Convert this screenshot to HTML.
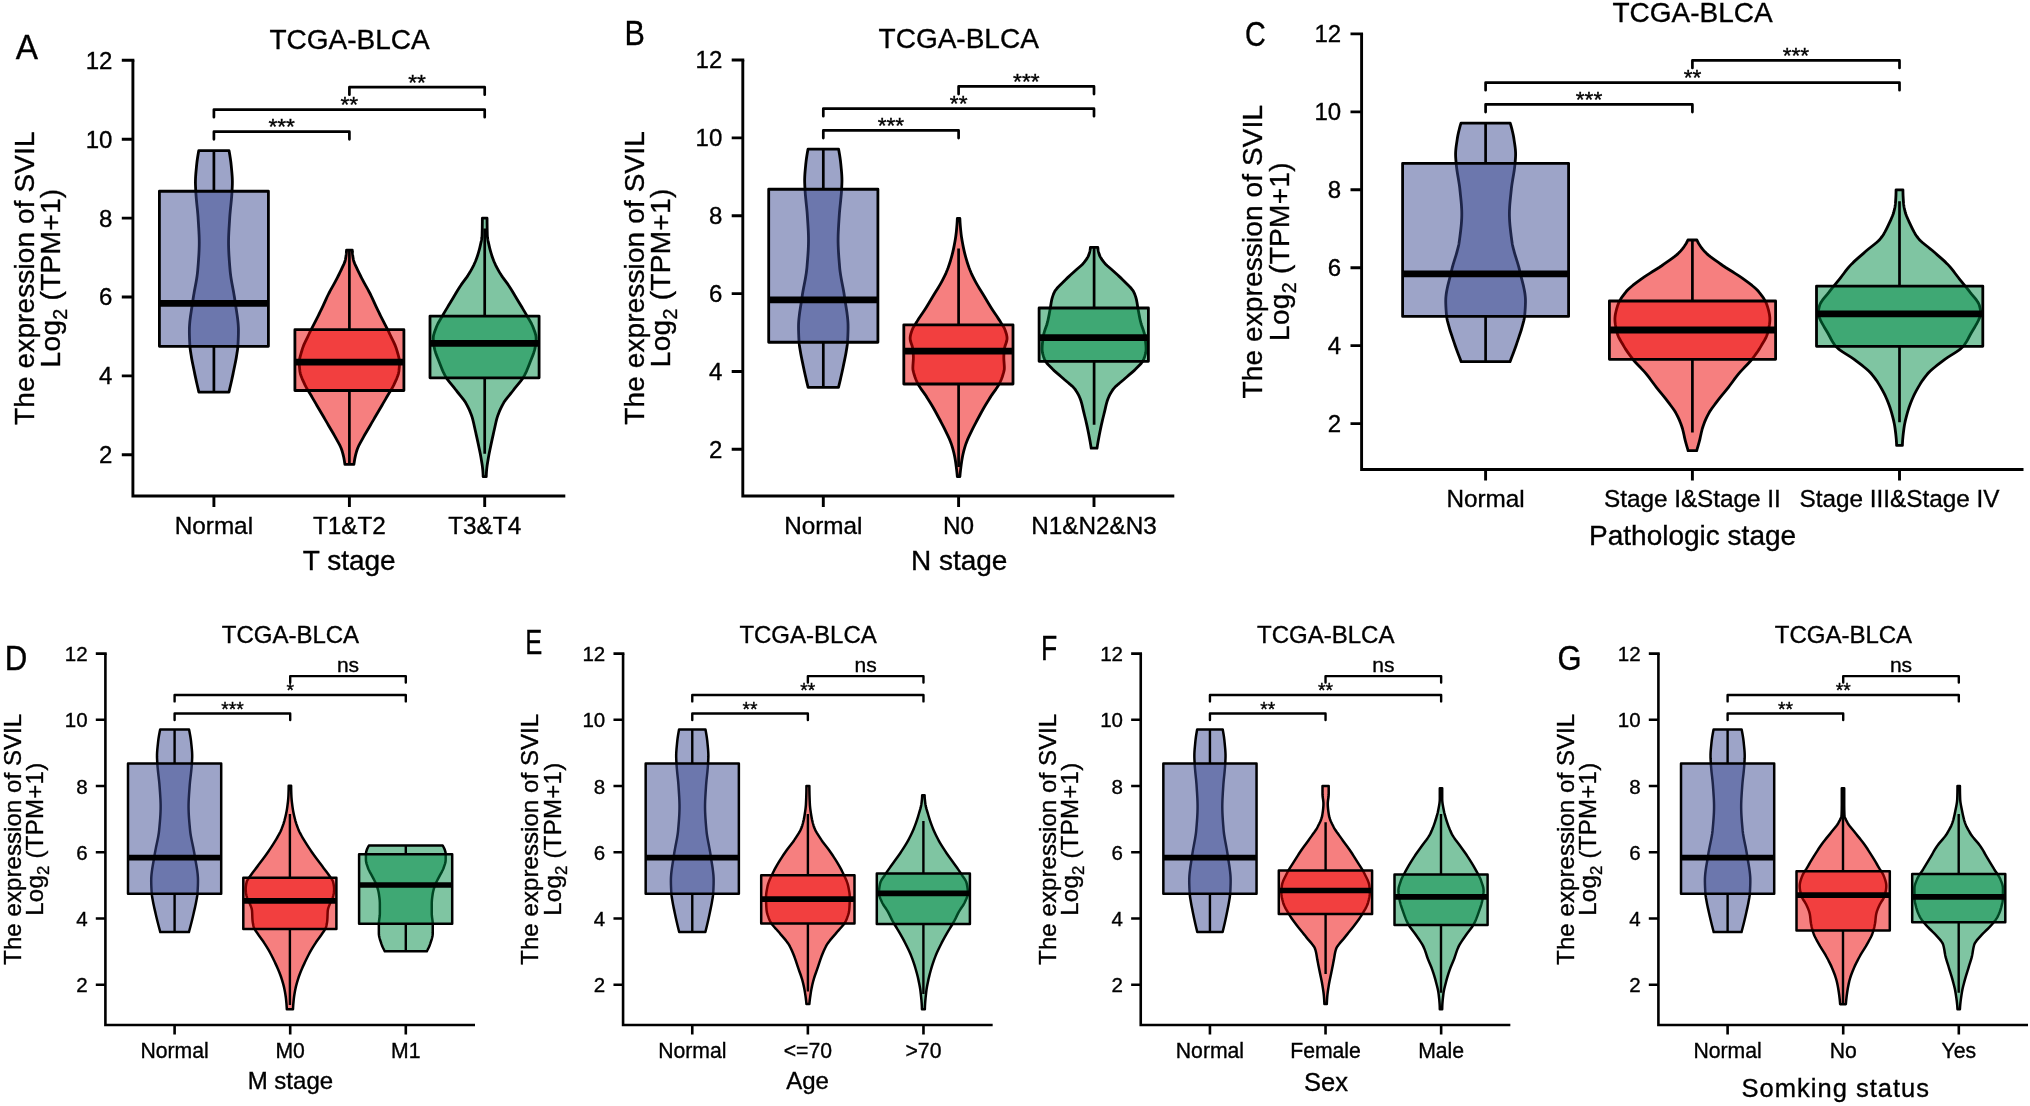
<!DOCTYPE html>
<html lang="en">
<head>
<meta charset="utf-8">
<title>SVIL expression in TCGA-BLCA</title>
<style>
html,body{margin:0;padding:0;background:#fff;}
body{width:2030px;height:1106px;overflow:hidden;}
svg{display:block;font-family:'Liberation Sans', sans-serif;fill:#000;filter:blur(0.45px);}
text{stroke:#000;stroke-width:0.35px;}
</style>
</head>
<body>
<svg width="2030" height="1106" viewBox="0 0 2030 1106">
<rect x="0" y="0" width="2030" height="1106" fill="#fff"/>
<g>
<text transform="translate(15.8 59) scale(0.94 1)" font-size="35.5">A</text>
<text x="349.5" y="48.5" font-size="28" text-anchor="middle">TCGA-BLCA</text>
<path d="M229.06 150.64 L229.33 152.16 L229.59 153.68 L229.84 155.2 L230.08 156.71 L230.31 158.23 L230.53 159.75 L230.74 161.27 L230.93 162.79 L231.1 164.31 L231.26 165.83 L231.4 167.34 L231.54 168.86 L231.68 170.38 L231.82 171.9 L231.95 173.42 L232.06 174.94 L232.17 176.45 L232.26 177.97 L232.32 179.49 L232.36 181.01 L232.37 182.53 L232.35 184.05 L232.3 185.56 L232.24 187.08 L232.16 188.6 L232.08 190.12 L232 191.64 L231.91 193.16 L231.81 194.68 L231.7 196.19 L231.57 197.71 L231.44 199.23 L231.29 200.75 L231.14 202.27 L230.99 203.79 L230.84 205.3 L230.68 206.82 L230.52 208.34 L230.37 209.86 L230.23 211.38 L230.09 212.9 L229.96 214.42 L229.84 215.93 L229.73 217.45 L229.64 218.97 L229.54 220.49 L229.45 222.01 L229.35 223.53 L229.25 225.04 L229.16 226.56 L229.06 228.08 L228.98 229.6 L228.89 231.12 L228.82 232.64 L228.75 234.16 L228.68 235.67 L228.63 237.19 L228.59 238.71 L228.56 240.23 L228.55 241.75 L228.55 243.27 L228.56 244.78 L228.59 246.3 L228.63 247.82 L228.68 249.34 L228.74 250.86 L228.81 252.38 L228.88 253.9 L228.97 255.41 L229.07 256.93 L229.17 258.45 L229.27 259.97 L229.38 261.49 L229.5 263.01 L229.62 264.52 L229.74 266.04 L229.86 267.56 L229.99 269.08 L230.11 270.6 L230.26 272.12 L230.43 273.64 L230.62 275.15 L230.83 276.67 L231.06 278.19 L231.31 279.71 L231.56 281.23 L231.83 282.75 L232.11 284.26 L232.39 285.78 L232.68 287.3 L232.96 288.82 L233.25 290.34 L233.53 291.86 L233.8 293.38 L234.07 294.89 L234.32 296.41 L234.57 297.93 L234.79 299.45 L235 300.97 L235.21 302.49 L235.44 304 L235.67 305.52 L235.9 307.04 L236.14 308.56 L236.38 310.08 L236.61 311.6 L236.84 313.11 L237.07 314.63 L237.28 316.15 L237.48 317.67 L237.67 319.19 L237.85 320.71 L238 322.23 L238.14 323.74 L238.25 325.26 L238.34 326.78 L238.4 328.3 L238.43 329.82 L238.43 331.34 L238.42 332.85 L238.39 334.37 L238.35 335.89 L238.31 337.41 L238.25 338.93 L238.19 340.45 L238.12 341.97 L238.04 343.48 L237.96 345 L237.87 346.52 L237.73 348.04 L237.54 349.56 L237.33 351.08 L237.09 352.59 L236.85 354.11 L236.6 355.63 L236.35 357.15 L236.09 358.67 L235.81 360.19 L235.52 361.71 L235.21 363.22 L234.9 364.74 L234.59 366.26 L234.28 367.78 L233.97 369.3 L233.66 370.82 L233.35 372.33 L233.04 373.85 L232.72 375.37 L232.39 376.89 L232.07 378.41 L231.74 379.93 L231.4 381.45 L231.06 382.96 L230.72 384.48 L230.37 386 L230.01 387.52 L229.66 389.04 L229.3 390.56 L228.93 392.07 L198.87 392.07 L198.5 390.56 L198.14 389.04 L197.79 387.52 L197.43 386 L197.08 384.48 L196.74 382.96 L196.4 381.45 L196.06 379.93 L195.73 378.41 L195.41 376.89 L195.08 375.37 L194.76 373.85 L194.45 372.33 L194.14 370.82 L193.83 369.3 L193.52 367.78 L193.21 366.26 L192.9 364.74 L192.59 363.22 L192.28 361.71 L191.99 360.19 L191.71 358.67 L191.45 357.15 L191.2 355.63 L190.95 354.11 L190.71 352.59 L190.47 351.08 L190.26 349.56 L190.07 348.04 L189.93 346.52 L189.84 345 L189.76 343.48 L189.68 341.97 L189.61 340.45 L189.55 338.93 L189.49 337.41 L189.45 335.89 L189.41 334.37 L189.38 332.85 L189.37 331.34 L189.37 329.82 L189.4 328.3 L189.46 326.78 L189.55 325.26 L189.66 323.74 L189.8 322.23 L189.95 320.71 L190.13 319.19 L190.32 317.67 L190.52 316.15 L190.73 314.63 L190.96 313.11 L191.19 311.6 L191.42 310.08 L191.66 308.56 L191.9 307.04 L192.13 305.52 L192.36 304 L192.59 302.49 L192.8 300.97 L193.01 299.45 L193.23 297.93 L193.48 296.41 L193.73 294.89 L194 293.38 L194.27 291.86 L194.55 290.34 L194.84 288.82 L195.12 287.3 L195.41 285.78 L195.69 284.26 L195.97 282.75 L196.24 281.23 L196.49 279.71 L196.74 278.19 L196.97 276.67 L197.18 275.15 L197.37 273.64 L197.54 272.12 L197.69 270.6 L197.81 269.08 L197.94 267.56 L198.06 266.04 L198.18 264.52 L198.3 263.01 L198.42 261.49 L198.53 259.97 L198.63 258.45 L198.73 256.93 L198.83 255.41 L198.92 253.9 L198.99 252.38 L199.06 250.86 L199.12 249.34 L199.17 247.82 L199.21 246.3 L199.24 244.78 L199.25 243.27 L199.25 241.75 L199.24 240.23 L199.21 238.71 L199.17 237.19 L199.12 235.67 L199.05 234.16 L198.98 232.64 L198.91 231.12 L198.82 229.6 L198.74 228.08 L198.64 226.56 L198.55 225.04 L198.45 223.53 L198.35 222.01 L198.26 220.49 L198.16 218.97 L198.07 217.45 L197.96 215.93 L197.84 214.42 L197.71 212.9 L197.57 211.38 L197.43 209.86 L197.28 208.34 L197.12 206.82 L196.96 205.3 L196.81 203.79 L196.66 202.27 L196.51 200.75 L196.36 199.23 L196.23 197.71 L196.1 196.19 L195.99 194.68 L195.89 193.16 L195.8 191.64 L195.72 190.12 L195.64 188.6 L195.56 187.08 L195.5 185.56 L195.45 184.05 L195.43 182.53 L195.44 181.01 L195.48 179.49 L195.54 177.97 L195.63 176.45 L195.74 174.94 L195.85 173.42 L195.98 171.9 L196.12 170.38 L196.26 168.86 L196.4 167.34 L196.54 165.83 L196.7 164.31 L196.87 162.79 L197.06 161.27 L197.27 159.75 L197.49 158.23 L197.72 156.71 L197.96 155.2 L198.21 153.68 L198.47 152.16 L198.74 150.64 Z" fill="#3B4992" fill-opacity="0.5" stroke="#000" stroke-width="2.8" stroke-linejoin="round"/>
<path d="M213.9 150.64 V191.27 M213.9 346.31 V392.07" stroke="#000" stroke-width="2.7" fill="none"/>
<rect x="159.4" y="191.27" width="109" height="155.04" fill="#3B4992" fill-opacity="0.5" stroke="#000" stroke-width="2.8" stroke-linejoin="round"/>
<path d="M159.4 303.31 H268.4" stroke="#000" stroke-width="6.8" fill="none"/>
<path d="M352.3 250.18 L352.33 251.7 L352.44 253.22 L352.6 254.74 L352.81 256.25 L353.05 257.77 L353.31 259.29 L353.65 260.81 L354.16 262.33 L354.8 263.85 L355.5 265.37 L356.22 266.89 L356.91 268.41 L357.6 269.93 L358.33 271.45 L359.08 272.97 L359.84 274.49 L360.62 276.01 L361.41 277.53 L362.21 279.05 L363 280.57 L363.79 282.09 L364.61 283.61 L365.44 285.13 L366.28 286.65 L367.13 288.17 L367.97 289.69 L368.8 291.21 L369.61 292.73 L370.4 294.25 L371.15 295.76 L371.88 297.28 L372.58 298.8 L373.27 300.32 L373.95 301.84 L374.63 303.36 L375.31 304.88 L376 306.4 L376.71 307.92 L377.44 309.44 L378.18 310.96 L378.93 312.48 L379.69 314 L380.46 315.52 L381.23 317.04 L382 318.56 L382.77 320.08 L383.53 321.6 L384.3 323.12 L385.07 324.64 L385.84 326.16 L386.62 327.68 L387.39 329.2 L388.16 330.72 L388.91 332.24 L389.66 333.76 L390.38 335.27 L391.1 336.79 L391.84 338.31 L392.59 339.83 L393.33 341.35 L394.04 342.87 L394.73 344.39 L395.36 345.91 L395.94 347.43 L396.44 348.95 L396.89 350.47 L397.36 351.99 L397.82 353.51 L398.25 355.03 L398.64 356.55 L398.98 358.07 L399.25 359.59 L399.42 361.11 L399.49 362.63 L399.47 364.15 L399.4 365.67 L399.3 367.19 L399.17 368.71 L399.02 370.23 L398.83 371.75 L398.53 373.27 L398.11 374.79 L397.6 376.3 L397.01 377.82 L396.37 379.34 L395.69 380.86 L395 382.38 L394.3 383.9 L393.6 385.42 L392.81 386.94 L391.96 388.46 L391.05 389.98 L390.12 391.5 L389.18 393.02 L388.26 394.54 L387.38 396.06 L386.49 397.58 L385.61 399.1 L384.72 400.62 L383.84 402.14 L382.95 403.66 L382.06 405.18 L381.17 406.7 L380.28 408.22 L379.4 409.74 L378.51 411.26 L377.62 412.78 L376.73 414.3 L375.85 415.81 L374.96 417.33 L374.07 418.85 L373.18 420.37 L372.29 421.89 L371.41 423.41 L370.52 424.93 L369.64 426.45 L368.76 427.97 L367.87 429.49 L366.98 431.01 L366.09 432.53 L365.2 434.05 L364.32 435.57 L363.47 437.09 L362.64 438.61 L361.81 440.13 L360.97 441.65 L360.13 443.17 L359.32 444.69 L358.56 446.21 L357.87 447.73 L357.28 449.25 L356.77 450.77 L356.31 452.29 L355.89 453.81 L355.52 455.32 L355.18 456.84 L354.87 458.36 L354.59 459.88 L354.34 461.4 L354.11 462.92 L353.92 464.44 L344.88 464.44 L344.69 462.92 L344.46 461.4 L344.21 459.88 L343.93 458.36 L343.62 456.84 L343.28 455.32 L342.91 453.81 L342.49 452.29 L342.03 450.77 L341.52 449.25 L340.93 447.73 L340.24 446.21 L339.48 444.69 L338.67 443.17 L337.83 441.65 L336.99 440.13 L336.16 438.61 L335.33 437.09 L334.48 435.57 L333.6 434.05 L332.71 432.53 L331.82 431.01 L330.93 429.49 L330.04 427.97 L329.16 426.45 L328.28 424.93 L327.39 423.41 L326.51 421.89 L325.62 420.37 L324.73 418.85 L323.84 417.33 L322.95 415.81 L322.07 414.3 L321.18 412.78 L320.29 411.26 L319.4 409.74 L318.52 408.22 L317.63 406.7 L316.74 405.18 L315.85 403.66 L314.96 402.14 L314.08 400.62 L313.19 399.1 L312.31 397.58 L311.42 396.06 L310.54 394.54 L309.62 393.02 L308.68 391.5 L307.75 389.98 L306.84 388.46 L305.99 386.94 L305.2 385.42 L304.5 383.9 L303.8 382.38 L303.11 380.86 L302.43 379.34 L301.79 377.82 L301.2 376.3 L300.69 374.79 L300.27 373.27 L299.97 371.75 L299.78 370.23 L299.63 368.71 L299.5 367.19 L299.4 365.67 L299.33 364.15 L299.31 362.63 L299.38 361.11 L299.55 359.59 L299.82 358.07 L300.16 356.55 L300.55 355.03 L300.98 353.51 L301.44 351.99 L301.91 350.47 L302.36 348.95 L302.86 347.43 L303.44 345.91 L304.07 344.39 L304.76 342.87 L305.47 341.35 L306.21 339.83 L306.96 338.31 L307.7 336.79 L308.42 335.27 L309.14 333.76 L309.89 332.24 L310.64 330.72 L311.41 329.2 L312.18 327.68 L312.96 326.16 L313.73 324.64 L314.5 323.12 L315.27 321.6 L316.03 320.08 L316.8 318.56 L317.57 317.04 L318.34 315.52 L319.11 314 L319.87 312.48 L320.62 310.96 L321.36 309.44 L322.09 307.92 L322.8 306.4 L323.49 304.88 L324.17 303.36 L324.85 301.84 L325.53 300.32 L326.22 298.8 L326.92 297.28 L327.65 295.76 L328.4 294.25 L329.19 292.73 L330 291.21 L330.83 289.69 L331.67 288.17 L332.52 286.65 L333.36 285.13 L334.19 283.61 L335.01 282.09 L335.8 280.57 L336.59 279.05 L337.39 277.53 L338.18 276.01 L338.96 274.49 L339.72 272.97 L340.47 271.45 L341.2 269.93 L341.89 268.41 L342.58 266.89 L343.3 265.37 L344 263.85 L344.64 262.33 L345.15 260.81 L345.49 259.29 L345.75 257.77 L345.99 256.25 L346.2 254.74 L346.36 253.22 L346.47 251.7 L346.5 250.18 Z" fill="#EE0000" fill-opacity="0.5" stroke="#000" stroke-width="2.8" stroke-linejoin="round"/>
<path d="M349.4 250.2 V329.7 M349.4 390.5 V464.6" stroke="#000" stroke-width="2.7" fill="none"/>
<rect x="294.9" y="329.7" width="109" height="60.8" fill="#EE0000" fill-opacity="0.5" stroke="#000" stroke-width="2.8" stroke-linejoin="round"/>
<path d="M294.9 362.1 H403.9" stroke="#000" stroke-width="6.8" fill="none"/>
<path d="M487.05 218.17 L487.06 219.68 L487.06 221.2 L487.07 222.71 L487.09 224.22 L487.11 225.73 L487.13 227.24 L487.16 228.75 L487.19 230.26 L487.23 231.78 L487.27 233.29 L487.31 234.8 L487.38 236.31 L487.54 237.82 L487.77 239.33 L488.05 240.85 L488.38 242.36 L488.72 243.87 L489.06 245.38 L489.4 246.89 L489.76 248.4 L490.15 249.91 L490.57 251.43 L491.01 252.94 L491.48 254.45 L491.97 255.96 L492.49 257.47 L493.04 258.98 L493.61 260.5 L494.23 262.01 L494.91 263.52 L495.62 265.03 L496.38 266.54 L497.17 268.05 L497.99 269.56 L498.83 271.08 L499.7 272.59 L500.6 274.1 L501.57 275.61 L502.61 277.12 L503.7 278.63 L504.81 280.15 L505.94 281.66 L507.05 283.17 L508.14 284.68 L509.17 286.19 L510.15 287.7 L511.1 289.21 L512.02 290.73 L512.92 292.24 L513.82 293.75 L514.7 295.26 L515.59 296.77 L516.47 298.28 L517.37 299.8 L518.28 301.31 L519.19 302.82 L520.12 304.33 L521.04 305.84 L521.96 307.35 L522.87 308.87 L523.78 310.38 L524.67 311.89 L525.55 313.4 L526.41 314.91 L527.31 316.42 L528.22 317.93 L529.12 319.45 L530.01 320.96 L530.85 322.47 L531.64 323.98 L532.36 325.49 L532.99 327 L533.55 328.52 L534.12 330.03 L534.68 331.54 L535.19 333.05 L535.63 334.56 L535.95 336.07 L536.12 337.58 L536.14 339.1 L536.06 340.61 L535.92 342.12 L535.73 343.63 L535.52 345.14 L535.3 346.65 L535.03 348.17 L534.67 349.68 L534.25 351.19 L533.77 352.7 L533.24 354.21 L532.68 355.72 L532.09 357.23 L531.48 358.75 L530.88 360.26 L530.28 361.77 L529.7 363.28 L529.12 364.79 L528.53 366.3 L527.93 367.82 L527.3 369.33 L526.65 370.84 L525.96 372.35 L525.22 373.86 L524.44 375.37 L523.6 376.89 L522.65 378.4 L521.59 379.91 L520.45 381.42 L519.25 382.93 L518.01 384.44 L516.76 385.95 L515.52 387.47 L514.31 388.98 L513.15 390.49 L511.95 392 L510.71 393.51 L509.46 395.02 L508.22 396.54 L507.01 398.05 L505.86 399.56 L504.79 401.07 L503.81 402.58 L502.96 404.09 L502.15 405.6 L501.38 407.12 L500.64 408.63 L499.95 410.14 L499.3 411.65 L498.69 413.16 L498.13 414.67 L497.61 416.19 L497.14 417.7 L496.71 419.21 L496.32 420.72 L495.95 422.23 L495.6 423.74 L495.27 425.25 L494.94 426.77 L494.61 428.28 L494.28 429.79 L493.93 431.3 L493.59 432.81 L493.25 434.32 L492.91 435.84 L492.57 437.35 L492.24 438.86 L491.92 440.37 L491.59 441.88 L491.27 443.39 L490.95 444.91 L490.63 446.42 L490.31 447.93 L489.99 449.44 L489.68 450.95 L489.37 452.46 L489.07 453.97 L488.79 455.49 L488.52 457 L488.27 458.51 L488.02 460.02 L487.76 461.53 L487.52 463.04 L487.28 464.56 L487.06 466.07 L486.87 467.58 L486.7 469.09 L486.56 470.6 L486.45 472.11 L486.36 473.62 L486.29 475.14 L486.24 476.65 L483.16 476.65 L483.11 475.14 L483.04 473.62 L482.95 472.11 L482.84 470.6 L482.7 469.09 L482.53 467.58 L482.34 466.07 L482.12 464.56 L481.88 463.04 L481.64 461.53 L481.38 460.02 L481.13 458.51 L480.88 457 L480.61 455.49 L480.33 453.97 L480.03 452.46 L479.72 450.95 L479.41 449.44 L479.09 447.93 L478.77 446.42 L478.45 444.91 L478.13 443.39 L477.81 441.88 L477.48 440.37 L477.16 438.86 L476.83 437.35 L476.49 435.84 L476.15 434.32 L475.81 432.81 L475.47 431.3 L475.12 429.79 L474.79 428.28 L474.46 426.77 L474.13 425.25 L473.8 423.74 L473.45 422.23 L473.08 420.72 L472.69 419.21 L472.26 417.7 L471.79 416.19 L471.27 414.67 L470.71 413.16 L470.1 411.65 L469.45 410.14 L468.76 408.63 L468.02 407.12 L467.25 405.6 L466.44 404.09 L465.59 402.58 L464.61 401.07 L463.54 399.56 L462.39 398.05 L461.18 396.54 L459.94 395.02 L458.69 393.51 L457.45 392 L456.25 390.49 L455.09 388.98 L453.88 387.47 L452.64 385.95 L451.39 384.44 L450.15 382.93 L448.95 381.42 L447.81 379.91 L446.75 378.4 L445.8 376.89 L444.96 375.37 L444.18 373.86 L443.44 372.35 L442.75 370.84 L442.1 369.33 L441.47 367.82 L440.87 366.3 L440.28 364.79 L439.7 363.28 L439.12 361.77 L438.52 360.26 L437.92 358.75 L437.31 357.23 L436.72 355.72 L436.16 354.21 L435.63 352.7 L435.15 351.19 L434.73 349.68 L434.37 348.17 L434.1 346.65 L433.88 345.14 L433.67 343.63 L433.48 342.12 L433.34 340.61 L433.26 339.1 L433.28 337.58 L433.45 336.07 L433.77 334.56 L434.21 333.05 L434.72 331.54 L435.28 330.03 L435.85 328.52 L436.41 327 L437.04 325.49 L437.76 323.98 L438.55 322.47 L439.39 320.96 L440.28 319.45 L441.18 317.93 L442.09 316.42 L442.99 314.91 L443.85 313.4 L444.73 311.89 L445.62 310.38 L446.53 308.87 L447.44 307.35 L448.36 305.84 L449.28 304.33 L450.21 302.82 L451.12 301.31 L452.03 299.8 L452.93 298.28 L453.81 296.77 L454.7 295.26 L455.58 293.75 L456.48 292.24 L457.38 290.73 L458.3 289.21 L459.25 287.7 L460.23 286.19 L461.26 284.68 L462.35 283.17 L463.46 281.66 L464.59 280.15 L465.7 278.63 L466.79 277.12 L467.83 275.61 L468.8 274.1 L469.7 272.59 L470.57 271.08 L471.41 269.56 L472.23 268.05 L473.02 266.54 L473.78 265.03 L474.49 263.52 L475.17 262.01 L475.79 260.5 L476.36 258.98 L476.91 257.47 L477.43 255.96 L477.92 254.45 L478.39 252.94 L478.83 251.43 L479.25 249.91 L479.64 248.4 L480 246.89 L480.34 245.38 L480.68 243.87 L481.02 242.36 L481.35 240.85 L481.63 239.33 L481.86 237.82 L482.02 236.31 L482.09 234.8 L482.13 233.29 L482.17 231.78 L482.21 230.26 L482.24 228.75 L482.27 227.24 L482.29 225.73 L482.31 224.22 L482.33 222.71 L482.34 221.2 L482.34 219.68 L482.35 218.17 Z" fill="#008B45" fill-opacity="0.5" stroke="#000" stroke-width="2.8" stroke-linejoin="round"/>
<path d="M484.7 228.6 V316.1 M484.7 377.8 V453.7" stroke="#000" stroke-width="2.7" fill="none"/>
<rect x="430" y="316.1" width="109.1" height="61.7" fill="#008B45" fill-opacity="0.5" stroke="#000" stroke-width="2.8" stroke-linejoin="round"/>
<path d="M430 343.3 H539.1" stroke="#000" stroke-width="6.8" fill="none"/>
<path d="M132.9 60.3 V496 H565.3" stroke="#000" stroke-width="2.9" fill="none" stroke-linejoin="miter"/>
<text x="112.4" y="463.2" font-size="24" text-anchor="end">2</text>
<text x="112.4" y="384.3" font-size="24" text-anchor="end">4</text>
<text x="112.4" y="305.4" font-size="24" text-anchor="end">6</text>
<text x="112.4" y="226.5" font-size="24" text-anchor="end">8</text>
<text x="112.4" y="147.6" font-size="24" text-anchor="end">10</text>
<text x="112.4" y="68.7" font-size="24" text-anchor="end">12</text>
<path d="M121.8 454.8 H132.9 M121.8 375.9 H132.9 M121.8 297 H132.9 M121.8 218.1 H132.9 M121.8 139.2 H132.9 M121.8 60.3 H134.35 M213.9 496 V507.1 M349.4 496 V507.1 M484.7 496 V507.1" stroke="#000" stroke-width="2.9" fill="none"/>
<text x="213.9" y="533.9" font-size="24.3" text-anchor="middle">Normal</text>
<text x="349.4" y="533.9" font-size="24.3" text-anchor="middle">T1&amp;T2</text>
<text x="484.7" y="533.9" font-size="24.3" text-anchor="middle">T3&amp;T4</text>
<text x="349.2" y="570.2" font-size="28" text-anchor="middle">T stage</text>
<text transform="translate(33.7 278.15) rotate(-90)" font-size="28" text-anchor="middle" textLength="293.5" lengthAdjust="spacing">The expression of SVIL</text>
<text transform="translate(59.8 278.15) rotate(-90)" font-size="28" text-anchor="middle" textLength="178.5" lengthAdjust="spacing">Log<tspan font-size="19.6" dy="7">2</tspan><tspan dy="-7"> (TPM+1)</tspan></text>
<text x="417.05" y="89.53" font-size="22.7" text-anchor="middle">**</text>
<text x="349.3" y="112.01" font-size="22.7" text-anchor="middle">**</text>
<text x="281.65" y="134.1" font-size="22.7" text-anchor="middle">***</text>
<path d="M349.4 94.73 V87.13 H484.7 V94.73 M213.9 117.21 V109.61 H484.7 V117.21 M213.9 139.3 V131.7 H349.4 V139.3" stroke="#000" stroke-width="2.7" fill="none" stroke-linejoin="round" stroke-linecap="round"/>
</g>
<g>
<text transform="translate(624.6 45.3) scale(0.86 1)" font-size="35.5">B</text>
<text x="958.7" y="48.2" font-size="28" text-anchor="middle">TCGA-BLCA</text>
<path d="M838.61 149.15 L838.88 150.67 L839.15 152.18 L839.41 153.7 L839.66 155.22 L839.89 156.74 L840.11 158.25 L840.32 159.77 L840.51 161.29 L840.69 162.81 L840.85 164.32 L840.99 165.84 L841.13 167.36 L841.28 168.88 L841.42 170.4 L841.55 171.91 L841.67 173.43 L841.77 174.95 L841.85 176.47 L841.91 177.98 L841.95 179.5 L841.95 181.02 L841.92 182.54 L841.87 184.05 L841.8 185.57 L841.71 187.09 L841.63 188.61 L841.55 190.12 L841.46 191.64 L841.35 193.16 L841.23 194.68 L841.09 196.19 L840.95 197.71 L840.8 199.23 L840.65 200.75 L840.49 202.26 L840.33 203.78 L840.17 205.3 L840.01 206.82 L839.86 208.33 L839.72 209.85 L839.58 211.37 L839.45 212.89 L839.34 214.4 L839.24 215.92 L839.14 217.44 L839.04 218.96 L838.94 220.47 L838.84 221.99 L838.74 223.51 L838.65 225.03 L838.56 226.54 L838.47 228.06 L838.39 229.58 L838.31 231.1 L838.25 232.61 L838.19 234.13 L838.15 235.65 L838.12 237.17 L838.1 238.68 L838.09 240.2 L838.1 241.72 L838.13 243.24 L838.16 244.75 L838.21 246.27 L838.27 247.79 L838.34 249.31 L838.42 250.82 L838.51 252.34 L838.6 253.86 L838.71 255.38 L838.81 256.89 L838.93 258.41 L839.05 259.93 L839.17 261.45 L839.29 262.96 L839.42 264.48 L839.54 266 L839.67 267.52 L839.82 269.03 L839.99 270.55 L840.19 272.07 L840.41 273.59 L840.64 275.1 L840.9 276.62 L841.16 278.14 L841.44 279.66 L841.72 281.17 L842.01 282.69 L842.3 284.21 L842.59 285.73 L842.89 287.24 L843.17 288.76 L843.45 290.28 L843.72 291.8 L843.98 293.31 L844.22 294.83 L844.45 296.35 L844.66 297.87 L844.88 299.38 L845.11 300.9 L845.35 302.42 L845.59 303.94 L845.84 305.45 L846.08 306.97 L846.32 308.49 L846.55 310.01 L846.78 311.52 L846.99 313.04 L847.19 314.56 L847.38 316.08 L847.55 317.6 L847.7 319.11 L847.83 320.63 L847.93 322.15 L848.01 323.67 L848.06 325.18 L848.07 326.7 L848.07 328.22 L848.05 329.74 L848.01 331.25 L847.97 332.77 L847.92 334.29 L847.86 335.81 L847.79 337.32 L847.71 338.84 L847.63 340.36 L847.55 341.88 L847.42 343.39 L847.25 344.91 L847.04 346.43 L846.8 347.95 L846.55 349.46 L846.3 350.98 L846.05 352.5 L845.79 354.02 L845.5 355.53 L845.21 357.05 L844.9 358.57 L844.58 360.09 L844.26 361.6 L843.94 363.12 L843.63 364.64 L843.31 366.16 L843 367.67 L842.67 369.19 L842.35 370.71 L842.02 372.23 L841.69 373.74 L841.35 375.26 L841 376.78 L840.66 378.3 L840.31 379.81 L839.95 381.33 L839.59 382.85 L839.22 384.37 L838.85 385.88 L838.48 387.4 L808.12 387.4 L807.75 385.88 L807.38 384.37 L807.01 382.85 L806.65 381.33 L806.29 379.81 L805.94 378.3 L805.6 376.78 L805.25 375.26 L804.91 373.74 L804.58 372.23 L804.25 370.71 L803.93 369.19 L803.6 367.67 L803.29 366.16 L802.97 364.64 L802.66 363.12 L802.34 361.6 L802.02 360.09 L801.7 358.57 L801.39 357.05 L801.1 355.53 L800.81 354.02 L800.55 352.5 L800.3 350.98 L800.05 349.46 L799.8 347.95 L799.56 346.43 L799.35 344.91 L799.18 343.39 L799.05 341.88 L798.97 340.36 L798.89 338.84 L798.81 337.32 L798.74 335.81 L798.68 334.29 L798.63 332.77 L798.59 331.25 L798.55 329.74 L798.53 328.22 L798.53 326.7 L798.54 325.18 L798.59 323.67 L798.67 322.15 L798.77 320.63 L798.9 319.11 L799.05 317.6 L799.22 316.08 L799.41 314.56 L799.61 313.04 L799.82 311.52 L800.05 310.01 L800.28 308.49 L800.52 306.97 L800.76 305.45 L801.01 303.94 L801.25 302.42 L801.49 300.9 L801.72 299.38 L801.94 297.87 L802.15 296.35 L802.38 294.83 L802.62 293.31 L802.88 291.8 L803.15 290.28 L803.43 288.76 L803.71 287.24 L804.01 285.73 L804.3 284.21 L804.59 282.69 L804.88 281.17 L805.16 279.66 L805.44 278.14 L805.7 276.62 L805.96 275.1 L806.19 273.59 L806.41 272.07 L806.61 270.55 L806.78 269.03 L806.93 267.52 L807.06 266 L807.18 264.48 L807.31 262.96 L807.43 261.45 L807.55 259.93 L807.67 258.41 L807.79 256.89 L807.89 255.38 L808 253.86 L808.09 252.34 L808.18 250.82 L808.26 249.31 L808.33 247.79 L808.39 246.27 L808.44 244.75 L808.47 243.24 L808.5 241.72 L808.51 240.2 L808.5 238.68 L808.48 237.17 L808.45 235.65 L808.41 234.13 L808.35 232.61 L808.29 231.1 L808.21 229.58 L808.13 228.06 L808.04 226.54 L807.95 225.03 L807.86 223.51 L807.76 221.99 L807.66 220.47 L807.56 218.96 L807.46 217.44 L807.36 215.92 L807.26 214.4 L807.15 212.89 L807.02 211.37 L806.88 209.85 L806.74 208.33 L806.59 206.82 L806.43 205.3 L806.27 203.78 L806.11 202.26 L805.95 200.75 L805.8 199.23 L805.65 197.71 L805.51 196.19 L805.37 194.68 L805.25 193.16 L805.14 191.64 L805.05 190.12 L804.97 188.61 L804.89 187.09 L804.8 185.57 L804.73 184.05 L804.68 182.54 L804.65 181.02 L804.65 179.5 L804.69 177.98 L804.75 176.47 L804.83 174.95 L804.93 173.43 L805.05 171.91 L805.18 170.4 L805.32 168.88 L805.47 167.36 L805.61 165.84 L805.75 164.32 L805.91 162.81 L806.09 161.29 L806.28 159.77 L806.49 158.25 L806.71 156.74 L806.94 155.22 L807.19 153.7 L807.45 152.18 L807.72 150.67 L807.99 149.15 Z" fill="#3B4992" fill-opacity="0.5" stroke="#000" stroke-width="2.8" stroke-linejoin="round"/>
<path d="M823.3 149.15 V189.25 M823.3 342.24 V387.4" stroke="#000" stroke-width="2.7" fill="none"/>
<rect x="768.7" y="189.25" width="109.2" height="152.99" fill="#3B4992" fill-opacity="0.5" stroke="#000" stroke-width="2.8" stroke-linejoin="round"/>
<path d="M768.7 299.81 H877.9" stroke="#000" stroke-width="6.8" fill="none"/>
<path d="M959.87 218.44 L959.93 219.95 L960.01 221.46 L960.1 222.97 L960.21 224.48 L960.33 225.99 L960.46 227.5 L960.6 229.01 L960.75 230.52 L960.9 232.03 L961.06 233.54 L961.25 235.05 L961.45 236.56 L961.67 238.07 L961.91 239.58 L962.17 241.09 L962.44 242.6 L962.72 244.11 L963.01 245.62 L963.32 247.13 L963.63 248.64 L963.95 250.15 L964.3 251.66 L964.66 253.17 L965.04 254.68 L965.44 256.19 L965.85 257.7 L966.29 259.21 L966.74 260.72 L967.21 262.23 L967.7 263.74 L968.2 265.25 L968.72 266.76 L969.26 268.27 L969.84 269.78 L970.46 271.29 L971.11 272.8 L971.8 274.31 L972.52 275.82 L973.27 277.33 L974.03 278.84 L974.8 280.35 L975.59 281.86 L976.42 283.37 L977.29 284.88 L978.19 286.39 L979.11 287.9 L980.05 289.41 L981 290.92 L981.94 292.43 L982.87 293.94 L983.78 295.45 L984.68 296.96 L985.57 298.47 L986.46 299.98 L987.36 301.49 L988.25 303 L989.16 304.51 L990.07 306.02 L991 307.53 L991.95 309.04 L992.93 310.55 L993.94 312.06 L994.96 313.57 L995.99 315.08 L997.01 316.59 L998.03 318.1 L999.02 319.61 L999.98 321.12 L1000.91 322.63 L1001.88 324.14 L1002.85 325.65 L1003.76 327.16 L1004.55 328.67 L1005.16 330.18 L1005.66 331.69 L1006.15 333.2 L1006.57 334.71 L1006.88 336.22 L1007.05 337.73 L1007.02 339.24 L1006.76 340.75 L1006.34 342.26 L1005.84 343.77 L1005.31 345.28 L1004.83 346.79 L1004.48 348.3 L1004.29 349.81 L1004.14 351.32 L1004.01 352.83 L1003.9 354.34 L1003.83 355.85 L1003.81 357.36 L1003.84 358.87 L1003.91 360.38 L1004.02 361.89 L1004.13 363.4 L1004.23 364.91 L1004.31 366.42 L1004.35 367.93 L1004.28 369.44 L1004.02 370.95 L1003.64 372.46 L1003.19 373.97 L1002.71 375.48 L1002.23 376.99 L1001.69 378.5 L1001.07 380.01 L1000.38 381.52 L999.65 383.03 L998.87 384.54 L998.01 386.05 L997.04 387.56 L996 389.07 L994.91 390.58 L993.82 392.09 L992.74 393.6 L991.71 395.11 L990.74 396.62 L989.76 398.13 L988.8 399.64 L987.85 401.15 L986.91 402.66 L985.99 404.17 L985.09 405.68 L984.21 407.19 L983.35 408.7 L982.51 410.21 L981.68 411.72 L980.86 413.23 L980.05 414.74 L979.25 416.25 L978.44 417.76 L977.63 419.27 L976.82 420.78 L976.01 422.29 L975.21 423.8 L974.42 425.31 L973.64 426.82 L972.88 428.33 L972.14 429.84 L971.42 431.35 L970.69 432.86 L969.96 434.37 L969.24 435.88 L968.53 437.39 L967.86 438.9 L967.21 440.41 L966.61 441.92 L966.06 443.43 L965.57 444.94 L965.09 446.45 L964.64 447.96 L964.21 449.47 L963.8 450.98 L963.42 452.49 L963.06 454 L962.73 455.51 L962.43 457.02 L962.16 458.53 L961.9 460.04 L961.66 461.55 L961.44 463.06 L961.23 464.57 L961.03 466.08 L960.84 467.59 L960.66 469.1 L960.48 470.61 L960.31 472.12 L960.15 473.63 L960.01 475.14 L959.87 476.65 L957.33 476.65 L957.19 475.14 L957.05 473.63 L956.89 472.12 L956.72 470.61 L956.54 469.1 L956.36 467.59 L956.17 466.08 L955.97 464.57 L955.76 463.06 L955.54 461.55 L955.3 460.04 L955.04 458.53 L954.77 457.02 L954.47 455.51 L954.14 454 L953.78 452.49 L953.4 450.98 L952.99 449.47 L952.56 447.96 L952.11 446.45 L951.63 444.94 L951.14 443.43 L950.59 441.92 L949.99 440.41 L949.34 438.9 L948.67 437.39 L947.96 435.88 L947.24 434.37 L946.51 432.86 L945.78 431.35 L945.06 429.84 L944.32 428.33 L943.56 426.82 L942.78 425.31 L941.99 423.8 L941.19 422.29 L940.38 420.78 L939.57 419.27 L938.76 417.76 L937.95 416.25 L937.15 414.74 L936.34 413.23 L935.52 411.72 L934.69 410.21 L933.85 408.7 L932.99 407.19 L932.11 405.68 L931.21 404.17 L930.29 402.66 L929.35 401.15 L928.4 399.64 L927.44 398.13 L926.46 396.62 L925.49 395.11 L924.46 393.6 L923.38 392.09 L922.29 390.58 L921.2 389.07 L920.16 387.56 L919.19 386.05 L918.33 384.54 L917.55 383.03 L916.82 381.52 L916.13 380.01 L915.51 378.5 L914.97 376.99 L914.49 375.48 L914.01 373.97 L913.56 372.46 L913.18 370.95 L912.92 369.44 L912.85 367.93 L912.89 366.42 L912.97 364.91 L913.07 363.4 L913.18 361.89 L913.29 360.38 L913.36 358.87 L913.39 357.36 L913.37 355.85 L913.3 354.34 L913.19 352.83 L913.06 351.32 L912.91 349.81 L912.72 348.3 L912.37 346.79 L911.89 345.28 L911.36 343.77 L910.86 342.26 L910.44 340.75 L910.18 339.24 L910.15 337.73 L910.32 336.22 L910.63 334.71 L911.05 333.2 L911.54 331.69 L912.04 330.18 L912.65 328.67 L913.44 327.16 L914.35 325.65 L915.32 324.14 L916.29 322.63 L917.22 321.12 L918.18 319.61 L919.17 318.1 L920.19 316.59 L921.21 315.08 L922.24 313.57 L923.26 312.06 L924.27 310.55 L925.25 309.04 L926.2 307.53 L927.13 306.02 L928.04 304.51 L928.95 303 L929.84 301.49 L930.74 299.98 L931.63 298.47 L932.52 296.96 L933.42 295.45 L934.33 293.94 L935.26 292.43 L936.2 290.92 L937.15 289.41 L938.09 287.9 L939.01 286.39 L939.91 284.88 L940.78 283.37 L941.61 281.86 L942.4 280.35 L943.17 278.84 L943.93 277.33 L944.68 275.82 L945.4 274.31 L946.09 272.8 L946.74 271.29 L947.36 269.78 L947.94 268.27 L948.48 266.76 L949 265.25 L949.5 263.74 L949.99 262.23 L950.46 260.72 L950.91 259.21 L951.35 257.7 L951.76 256.19 L952.16 254.68 L952.54 253.17 L952.9 251.66 L953.25 250.15 L953.57 248.64 L953.88 247.13 L954.19 245.62 L954.48 244.11 L954.76 242.6 L955.03 241.09 L955.29 239.58 L955.53 238.07 L955.75 236.56 L955.95 235.05 L956.14 233.54 L956.3 232.03 L956.45 230.52 L956.6 229.01 L956.74 227.5 L956.87 225.99 L956.99 224.48 L957.1 222.97 L957.19 221.46 L957.27 219.95 L957.33 218.44 Z" fill="#EE0000" fill-opacity="0.5" stroke="#000" stroke-width="2.8" stroke-linejoin="round"/>
<path d="M958.6 248.5 V324.8 M958.6 384 V467" stroke="#000" stroke-width="2.7" fill="none"/>
<rect x="903.8" y="324.8" width="109.2" height="59.2" fill="#EE0000" fill-opacity="0.5" stroke="#000" stroke-width="2.8" stroke-linejoin="round"/>
<path d="M903.8 351.2 H1013" stroke="#000" stroke-width="6.8" fill="none"/>
<path d="M1097.81 247.46 L1097.92 248.98 L1098.18 250.51 L1098.54 252.03 L1098.96 253.55 L1099.45 255.07 L1100.13 256.59 L1101 258.11 L1102.01 259.63 L1103.11 261.15 L1104.28 262.67 L1105.65 264.19 L1107.25 265.71 L1108.98 267.23 L1110.75 268.75 L1112.46 270.27 L1114.11 271.79 L1115.78 273.31 L1117.47 274.83 L1119.16 276.35 L1120.81 277.87 L1122.41 279.39 L1123.95 280.91 L1125.44 282.44 L1126.98 283.96 L1128.52 285.48 L1130 287 L1131.37 288.52 L1132.57 290.04 L1133.54 291.56 L1134.28 293.08 L1134.9 294.6 L1135.44 296.12 L1135.91 297.64 L1136.32 299.16 L1136.67 300.68 L1136.96 302.2 L1137.21 303.72 L1137.44 305.24 L1137.67 306.76 L1137.92 308.28 L1138.19 309.8 L1138.47 311.32 L1138.75 312.85 L1139.03 314.37 L1139.33 315.89 L1139.63 317.41 L1139.95 318.93 L1140.29 320.45 L1140.64 321.97 L1141.05 323.49 L1141.52 325.01 L1142.04 326.53 L1142.57 328.05 L1143.11 329.57 L1143.62 331.09 L1144.07 332.61 L1144.46 334.13 L1144.74 335.65 L1144.97 337.17 L1145.19 338.69 L1145.4 340.21 L1145.59 341.73 L1145.76 343.26 L1145.9 344.78 L1146 346.3 L1146.07 347.82 L1146.09 349.34 L1146 350.86 L1145.78 352.38 L1145.45 353.9 L1145.03 355.42 L1144.53 356.94 L1143.98 358.46 L1143.39 359.98 L1142.6 361.5 L1141.48 363.02 L1140.13 364.54 L1138.65 366.06 L1137.15 367.58 L1135.67 369.1 L1134.07 370.62 L1132.37 372.14 L1130.6 373.67 L1128.8 375.19 L1127.01 376.71 L1125.26 378.23 L1123.56 379.75 L1121.78 381.27 L1119.95 382.79 L1118.14 384.31 L1116.41 385.83 L1114.83 387.35 L1113.47 388.87 L1112.37 390.39 L1111.4 391.91 L1110.52 393.43 L1109.71 394.95 L1108.97 396.47 L1108.31 397.99 L1107.72 399.51 L1107.2 401.03 L1106.73 402.55 L1106.32 404.07 L1105.95 405.6 L1105.6 407.12 L1105.27 408.64 L1104.92 410.16 L1104.56 411.68 L1104.19 413.2 L1103.81 414.72 L1103.43 416.24 L1103.06 417.76 L1102.69 419.28 L1102.32 420.8 L1101.97 422.32 L1101.62 423.84 L1101.28 425.36 L1100.96 426.88 L1100.64 428.4 L1100.32 429.92 L1100.01 431.44 L1099.71 432.96 L1099.41 434.48 L1099.12 436.01 L1098.84 437.53 L1098.56 439.05 L1098.28 440.57 L1098.01 442.09 L1097.75 443.61 L1097.49 445.13 L1097.24 446.65 L1097 448.17 L1091.2 448.17 L1090.96 446.65 L1090.71 445.13 L1090.45 443.61 L1090.19 442.09 L1089.92 440.57 L1089.64 439.05 L1089.36 437.53 L1089.08 436.01 L1088.79 434.48 L1088.49 432.96 L1088.19 431.44 L1087.88 429.92 L1087.56 428.4 L1087.24 426.88 L1086.92 425.36 L1086.58 423.84 L1086.23 422.32 L1085.88 420.8 L1085.51 419.28 L1085.14 417.76 L1084.77 416.24 L1084.39 414.72 L1084.01 413.2 L1083.64 411.68 L1083.28 410.16 L1082.93 408.64 L1082.6 407.12 L1082.25 405.6 L1081.88 404.07 L1081.47 402.55 L1081 401.03 L1080.48 399.51 L1079.89 397.99 L1079.23 396.47 L1078.49 394.95 L1077.68 393.43 L1076.8 391.91 L1075.83 390.39 L1074.73 388.87 L1073.37 387.35 L1071.79 385.83 L1070.06 384.31 L1068.25 382.79 L1066.42 381.27 L1064.64 379.75 L1062.94 378.23 L1061.19 376.71 L1059.4 375.19 L1057.6 373.67 L1055.83 372.14 L1054.13 370.62 L1052.53 369.1 L1051.05 367.58 L1049.55 366.06 L1048.07 364.54 L1046.72 363.02 L1045.6 361.5 L1044.81 359.98 L1044.22 358.46 L1043.67 356.94 L1043.17 355.42 L1042.75 353.9 L1042.42 352.38 L1042.2 350.86 L1042.11 349.34 L1042.13 347.82 L1042.2 346.3 L1042.3 344.78 L1042.44 343.26 L1042.61 341.73 L1042.8 340.21 L1043.01 338.69 L1043.23 337.17 L1043.46 335.65 L1043.74 334.13 L1044.13 332.61 L1044.58 331.09 L1045.09 329.57 L1045.63 328.05 L1046.16 326.53 L1046.68 325.01 L1047.15 323.49 L1047.56 321.97 L1047.91 320.45 L1048.25 318.93 L1048.57 317.41 L1048.87 315.89 L1049.17 314.37 L1049.45 312.85 L1049.73 311.32 L1050.01 309.8 L1050.28 308.28 L1050.53 306.76 L1050.76 305.24 L1050.99 303.72 L1051.24 302.2 L1051.53 300.68 L1051.88 299.16 L1052.29 297.64 L1052.76 296.12 L1053.3 294.6 L1053.92 293.08 L1054.66 291.56 L1055.63 290.04 L1056.83 288.52 L1058.2 287 L1059.68 285.48 L1061.22 283.96 L1062.76 282.44 L1064.25 280.91 L1065.79 279.39 L1067.39 277.87 L1069.04 276.35 L1070.73 274.83 L1072.42 273.31 L1074.09 271.79 L1075.74 270.27 L1077.45 268.75 L1079.22 267.23 L1080.95 265.71 L1082.55 264.19 L1083.92 262.67 L1085.09 261.15 L1086.19 259.63 L1087.2 258.11 L1088.07 256.59 L1088.75 255.07 L1089.24 253.55 L1089.66 252.03 L1090.02 250.51 L1090.28 248.98 L1090.39 247.46 Z" fill="#008B45" fill-opacity="0.5" stroke="#000" stroke-width="2.8" stroke-linejoin="round"/>
<path d="M1094.1 247.5 V308 M1094.1 361.3 V424.7" stroke="#000" stroke-width="2.7" fill="none"/>
<rect x="1039.1" y="308" width="109.3" height="53.3" fill="#008B45" fill-opacity="0.5" stroke="#000" stroke-width="2.8" stroke-linejoin="round"/>
<path d="M1039.1 337.7 H1148.4" stroke="#000" stroke-width="6.8" fill="none"/>
<path d="M742.8 60 V496 H1174.3" stroke="#000" stroke-width="2.9" fill="none" stroke-linejoin="miter"/>
<text x="722.3" y="457.7" font-size="24" text-anchor="end">2</text>
<text x="722.3" y="379.84" font-size="24" text-anchor="end">4</text>
<text x="722.3" y="301.98" font-size="24" text-anchor="end">6</text>
<text x="722.3" y="224.12" font-size="24" text-anchor="end">8</text>
<text x="722.3" y="146.26" font-size="24" text-anchor="end">10</text>
<text x="722.3" y="68.4" font-size="24" text-anchor="end">12</text>
<path d="M731.7 449.3 H742.8 M731.7 371.44 H742.8 M731.7 293.58 H742.8 M731.7 215.72 H742.8 M731.7 137.86 H742.8 M731.7 60 H744.25 M823.3 496 V507.1 M958.6 496 V507.1 M1094 496 V507.1" stroke="#000" stroke-width="2.9" fill="none"/>
<text x="823.3" y="533.9" font-size="24.3" text-anchor="middle">Normal</text>
<text x="958.6" y="533.9" font-size="24.3" text-anchor="middle">N0</text>
<text x="1094" y="533.9" font-size="24.3" text-anchor="middle">N1&amp;N2&amp;N3</text>
<text x="959.2" y="569.8" font-size="28" text-anchor="middle">N stage</text>
<text transform="translate(643.6 278) rotate(-90)" font-size="28" text-anchor="middle" textLength="293.5" lengthAdjust="spacing">The expression of SVIL</text>
<text transform="translate(669.7 278) rotate(-90)" font-size="28" text-anchor="middle" textLength="178.5" lengthAdjust="spacing">Log<tspan font-size="19.6" dy="7">2</tspan><tspan dy="-7"> (TPM+1)</tspan></text>
<text x="1026.3" y="88.87" font-size="22.7" text-anchor="middle">***</text>
<text x="958.65" y="111.06" font-size="22.7" text-anchor="middle">**</text>
<text x="890.95" y="132.86" font-size="22.7" text-anchor="middle">***</text>
<path d="M958.6 94.07 V86.47 H1094 V94.07 M823.3 116.26 V108.66 H1094 V116.26 M823.3 138.06 V130.46 H958.6 V138.06" stroke="#000" stroke-width="2.7" fill="none" stroke-linejoin="round" stroke-linecap="round"/>
</g>
<g>
<text transform="translate(1245.1 46.2) scale(0.81 1)" font-size="35.5">C</text>
<text x="1692.6" y="22.1" font-size="28" text-anchor="middle">TCGA-BLCA</text>
<path d="M1510.23 123.14 L1510.68 124.66 L1511.11 126.18 L1511.52 127.7 L1511.92 129.22 L1512.3 130.74 L1512.66 132.26 L1512.99 133.77 L1513.3 135.29 L1513.58 136.81 L1513.84 138.33 L1514.07 139.85 L1514.3 141.37 L1514.53 142.89 L1514.75 144.41 L1514.97 145.93 L1515.16 147.45 L1515.32 148.97 L1515.46 150.48 L1515.56 152 L1515.61 153.52 L1515.61 155.04 L1515.56 156.56 L1515.48 158.08 L1515.36 159.6 L1515.23 161.12 L1515.1 162.64 L1514.97 164.16 L1514.82 165.68 L1514.64 167.19 L1514.45 168.71 L1514.24 170.23 L1514.01 171.75 L1513.77 173.27 L1513.52 174.79 L1513.26 176.31 L1513.01 177.83 L1512.75 179.35 L1512.5 180.87 L1512.25 182.39 L1512.02 183.9 L1511.8 185.42 L1511.59 186.94 L1511.41 188.46 L1511.25 189.98 L1511.09 191.5 L1510.93 193.02 L1510.77 194.54 L1510.61 196.06 L1510.45 197.58 L1510.3 199.1 L1510.15 200.61 L1510.01 202.13 L1509.88 203.65 L1509.76 205.17 L1509.66 206.69 L1509.57 208.21 L1509.49 209.73 L1509.44 211.25 L1509.41 212.77 L1509.41 214.29 L1509.42 215.81 L1509.46 217.32 L1509.52 218.84 L1509.6 220.36 L1509.69 221.88 L1509.81 223.4 L1509.93 224.92 L1510.07 226.44 L1510.23 227.96 L1510.39 229.48 L1510.57 231 L1510.75 232.52 L1510.94 234.03 L1511.13 235.55 L1511.33 237.07 L1511.54 238.59 L1511.74 240.11 L1511.95 241.63 L1512.18 243.15 L1512.46 244.67 L1512.78 246.19 L1513.13 247.71 L1513.51 249.23 L1513.92 250.74 L1514.34 252.26 L1514.79 253.78 L1515.24 255.3 L1515.71 256.82 L1516.18 258.34 L1516.65 259.86 L1517.12 261.38 L1517.58 262.9 L1518.03 264.42 L1518.46 265.94 L1518.88 267.45 L1519.27 268.97 L1519.63 270.49 L1519.98 272.01 L1520.33 273.53 L1520.71 275.05 L1521.09 276.57 L1521.48 278.09 L1521.87 279.61 L1522.26 281.13 L1522.64 282.65 L1523.02 284.16 L1523.38 285.68 L1523.73 287.2 L1524.05 288.72 L1524.35 290.24 L1524.63 291.76 L1524.87 293.28 L1525.08 294.8 L1525.24 296.32 L1525.37 297.84 L1525.44 299.36 L1525.47 300.87 L1525.46 302.39 L1525.42 303.91 L1525.37 305.43 L1525.3 306.95 L1525.22 308.47 L1525.12 309.99 L1525.01 311.51 L1524.89 313.03 L1524.76 314.55 L1524.62 316.07 L1524.42 317.58 L1524.14 319.1 L1523.8 320.62 L1523.42 322.14 L1523.02 323.66 L1522.61 325.18 L1522.2 326.7 L1521.78 328.22 L1521.33 329.74 L1520.86 331.26 L1520.36 332.78 L1519.85 334.29 L1519.33 335.81 L1518.82 337.33 L1518.32 338.85 L1517.81 340.37 L1517.3 341.89 L1516.78 343.41 L1516.25 344.93 L1515.72 346.45 L1515.19 347.97 L1514.64 349.49 L1514.09 351 L1513.53 352.52 L1512.97 354.04 L1512.39 355.56 L1511.81 357.08 L1511.22 358.6 L1510.63 360.12 L1510.03 361.64 L1461.17 361.64 L1460.57 360.12 L1459.98 358.6 L1459.39 357.08 L1458.81 355.56 L1458.23 354.04 L1457.67 352.52 L1457.11 351 L1456.56 349.49 L1456.01 347.97 L1455.48 346.45 L1454.95 344.93 L1454.42 343.41 L1453.9 341.89 L1453.39 340.37 L1452.88 338.85 L1452.38 337.33 L1451.87 335.81 L1451.35 334.29 L1450.84 332.78 L1450.34 331.26 L1449.87 329.74 L1449.42 328.22 L1449 326.7 L1448.59 325.18 L1448.18 323.66 L1447.78 322.14 L1447.4 320.62 L1447.06 319.1 L1446.78 317.58 L1446.58 316.07 L1446.44 314.55 L1446.31 313.03 L1446.19 311.51 L1446.08 309.99 L1445.98 308.47 L1445.9 306.95 L1445.83 305.43 L1445.78 303.91 L1445.74 302.39 L1445.73 300.87 L1445.76 299.36 L1445.83 297.84 L1445.96 296.32 L1446.12 294.8 L1446.33 293.28 L1446.57 291.76 L1446.85 290.24 L1447.15 288.72 L1447.47 287.2 L1447.82 285.68 L1448.18 284.16 L1448.56 282.65 L1448.94 281.13 L1449.33 279.61 L1449.72 278.09 L1450.11 276.57 L1450.49 275.05 L1450.87 273.53 L1451.22 272.01 L1451.57 270.49 L1451.93 268.97 L1452.32 267.45 L1452.74 265.94 L1453.17 264.42 L1453.62 262.9 L1454.08 261.38 L1454.55 259.86 L1455.02 258.34 L1455.49 256.82 L1455.96 255.3 L1456.41 253.78 L1456.86 252.26 L1457.28 250.74 L1457.69 249.23 L1458.07 247.71 L1458.42 246.19 L1458.74 244.67 L1459.02 243.15 L1459.25 241.63 L1459.46 240.11 L1459.66 238.59 L1459.87 237.07 L1460.07 235.55 L1460.26 234.03 L1460.45 232.52 L1460.63 231 L1460.81 229.48 L1460.97 227.96 L1461.13 226.44 L1461.27 224.92 L1461.39 223.4 L1461.51 221.88 L1461.6 220.36 L1461.68 218.84 L1461.74 217.32 L1461.78 215.81 L1461.79 214.29 L1461.79 212.77 L1461.76 211.25 L1461.71 209.73 L1461.63 208.21 L1461.54 206.69 L1461.44 205.17 L1461.32 203.65 L1461.19 202.13 L1461.05 200.61 L1460.9 199.1 L1460.75 197.58 L1460.59 196.06 L1460.43 194.54 L1460.27 193.02 L1460.11 191.5 L1459.95 189.98 L1459.79 188.46 L1459.61 186.94 L1459.4 185.42 L1459.18 183.9 L1458.95 182.39 L1458.7 180.87 L1458.45 179.35 L1458.19 177.83 L1457.94 176.31 L1457.68 174.79 L1457.43 173.27 L1457.19 171.75 L1456.96 170.23 L1456.75 168.71 L1456.56 167.19 L1456.38 165.68 L1456.23 164.16 L1456.1 162.64 L1455.97 161.12 L1455.84 159.6 L1455.72 158.08 L1455.64 156.56 L1455.59 155.04 L1455.59 153.52 L1455.64 152 L1455.74 150.48 L1455.88 148.97 L1456.04 147.45 L1456.23 145.93 L1456.45 144.41 L1456.67 142.89 L1456.9 141.37 L1457.13 139.85 L1457.36 138.33 L1457.62 136.81 L1457.9 135.29 L1458.21 133.77 L1458.54 132.26 L1458.9 130.74 L1459.28 129.22 L1459.68 127.7 L1460.09 126.18 L1460.52 124.66 L1460.97 123.14 Z" fill="#3B4992" fill-opacity="0.5" stroke="#000" stroke-width="2.8" stroke-linejoin="round"/>
<path d="M1485.6 123.14 V163.28 M1485.6 316.43 V361.64" stroke="#000" stroke-width="2.7" fill="none"/>
<rect x="1402.6" y="163.28" width="166" height="153.15" fill="#3B4992" fill-opacity="0.5" stroke="#000" stroke-width="2.8" stroke-linejoin="round"/>
<path d="M1402.6 273.96 H1568.6" stroke="#000" stroke-width="6.8" fill="none"/>
<path d="M1696.92 239.98 L1697.58 241.49 L1698.37 243.01 L1699.28 244.52 L1700.29 246.04 L1701.4 247.56 L1702.59 249.07 L1703.85 250.59 L1705.19 252.1 L1706.72 253.62 L1708.45 255.14 L1710.33 256.65 L1712.33 258.17 L1714.42 259.69 L1716.57 261.2 L1718.74 262.72 L1720.9 264.23 L1723.05 265.75 L1725.31 267.27 L1727.68 268.78 L1730.11 270.3 L1732.57 271.81 L1735.02 273.33 L1737.42 274.85 L1739.73 276.36 L1741.92 277.88 L1743.99 279.39 L1746.05 280.91 L1748.11 282.43 L1750.12 283.94 L1752.07 285.46 L1753.92 286.98 L1755.64 288.49 L1757.21 290.01 L1758.6 291.52 L1759.82 293.04 L1760.98 294.56 L1762.1 296.07 L1763.15 297.59 L1764.12 299.1 L1765.01 300.62 L1765.8 302.14 L1766.47 303.65 L1767.03 305.17 L1767.49 306.68 L1767.94 308.2 L1768.37 309.72 L1768.76 311.23 L1769.11 312.75 L1769.42 314.27 L1769.65 315.78 L1769.81 317.3 L1769.88 318.81 L1769.86 320.33 L1769.77 321.85 L1769.61 323.36 L1769.39 324.88 L1769.13 326.39 L1768.83 327.91 L1768.5 329.43 L1768.14 330.94 L1767.78 332.46 L1767.37 333.97 L1766.82 335.49 L1766.17 337.01 L1765.43 338.52 L1764.61 340.04 L1763.75 341.56 L1762.85 343.07 L1761.94 344.59 L1761.04 346.1 L1760.14 347.62 L1759.2 349.14 L1758.21 350.65 L1757.18 352.17 L1756.11 353.68 L1755.01 355.2 L1753.88 356.72 L1752.72 358.23 L1751.53 359.75 L1750.27 361.27 L1748.93 362.78 L1747.52 364.3 L1746.07 365.81 L1744.59 367.33 L1743.12 368.85 L1741.68 370.36 L1740.29 371.88 L1738.98 373.39 L1737.75 374.91 L1736.56 376.43 L1735.4 377.94 L1734.27 379.46 L1733.15 380.97 L1732.04 382.49 L1730.91 384.01 L1729.78 385.52 L1728.61 387.04 L1727.41 388.56 L1726.19 390.07 L1724.96 391.59 L1723.71 393.1 L1722.47 394.62 L1721.24 396.14 L1720.03 397.65 L1718.85 399.17 L1717.7 400.68 L1716.56 402.2 L1715.4 403.72 L1714.24 405.23 L1713.11 406.75 L1712 408.26 L1710.95 409.78 L1709.95 411.3 L1709.03 412.81 L1708.2 414.33 L1707.42 415.85 L1706.68 417.36 L1705.97 418.88 L1705.3 420.39 L1704.67 421.91 L1704.07 423.43 L1703.52 424.94 L1703 426.46 L1702.53 427.97 L1702.1 429.49 L1701.71 431.01 L1701.35 432.52 L1701.01 434.04 L1700.68 435.55 L1700.35 437.07 L1700.01 438.59 L1699.65 440.1 L1699.26 441.62 L1698.85 443.14 L1698.43 444.65 L1698 446.17 L1697.56 447.68 L1697.11 449.2 L1696.65 450.72 L1688.15 450.72 L1687.69 449.2 L1687.24 447.68 L1686.8 446.17 L1686.37 444.65 L1685.95 443.14 L1685.54 441.62 L1685.15 440.1 L1684.79 438.59 L1684.45 437.07 L1684.12 435.55 L1683.79 434.04 L1683.45 432.52 L1683.09 431.01 L1682.7 429.49 L1682.27 427.97 L1681.8 426.46 L1681.28 424.94 L1680.73 423.43 L1680.13 421.91 L1679.5 420.39 L1678.83 418.88 L1678.12 417.36 L1677.38 415.85 L1676.6 414.33 L1675.77 412.81 L1674.85 411.3 L1673.85 409.78 L1672.8 408.26 L1671.69 406.75 L1670.56 405.23 L1669.4 403.72 L1668.24 402.2 L1667.1 400.68 L1665.95 399.17 L1664.77 397.65 L1663.56 396.14 L1662.33 394.62 L1661.09 393.1 L1659.84 391.59 L1658.61 390.07 L1657.39 388.56 L1656.19 387.04 L1655.02 385.52 L1653.89 384.01 L1652.76 382.49 L1651.65 380.97 L1650.53 379.46 L1649.4 377.94 L1648.24 376.43 L1647.05 374.91 L1645.82 373.39 L1644.51 371.88 L1643.12 370.36 L1641.68 368.85 L1640.21 367.33 L1638.73 365.81 L1637.28 364.3 L1635.87 362.78 L1634.53 361.27 L1633.27 359.75 L1632.08 358.23 L1630.92 356.72 L1629.79 355.2 L1628.69 353.68 L1627.62 352.17 L1626.59 350.65 L1625.6 349.14 L1624.66 347.62 L1623.76 346.1 L1622.86 344.59 L1621.95 343.07 L1621.05 341.56 L1620.19 340.04 L1619.37 338.52 L1618.63 337.01 L1617.98 335.49 L1617.43 333.97 L1617.02 332.46 L1616.66 330.94 L1616.3 329.43 L1615.97 327.91 L1615.67 326.39 L1615.41 324.88 L1615.19 323.36 L1615.03 321.85 L1614.94 320.33 L1614.92 318.81 L1614.99 317.3 L1615.15 315.78 L1615.38 314.27 L1615.69 312.75 L1616.04 311.23 L1616.43 309.72 L1616.86 308.2 L1617.31 306.68 L1617.77 305.17 L1618.33 303.65 L1619 302.14 L1619.79 300.62 L1620.68 299.1 L1621.65 297.59 L1622.7 296.07 L1623.82 294.56 L1624.98 293.04 L1626.2 291.52 L1627.59 290.01 L1629.16 288.49 L1630.88 286.98 L1632.73 285.46 L1634.68 283.94 L1636.69 282.43 L1638.75 280.91 L1640.81 279.39 L1642.88 277.88 L1645.07 276.36 L1647.38 274.85 L1649.78 273.33 L1652.23 271.81 L1654.69 270.3 L1657.12 268.78 L1659.49 267.27 L1661.75 265.75 L1663.9 264.23 L1666.06 262.72 L1668.23 261.2 L1670.38 259.69 L1672.47 258.17 L1674.47 256.65 L1676.35 255.14 L1678.08 253.62 L1679.61 252.1 L1680.95 250.59 L1682.21 249.07 L1683.4 247.56 L1684.51 246.04 L1685.52 244.52 L1686.43 243.01 L1687.22 241.49 L1687.88 239.98 Z" fill="#EE0000" fill-opacity="0.5" stroke="#000" stroke-width="2.8" stroke-linejoin="round"/>
<path d="M1692.4 240 V301 M1692.4 359.3 V432.5" stroke="#000" stroke-width="2.7" fill="none"/>
<rect x="1609.4" y="301" width="166.2" height="58.3" fill="#EE0000" fill-opacity="0.5" stroke="#000" stroke-width="2.8" stroke-linejoin="round"/>
<path d="M1609.4 330 H1775.6" stroke="#000" stroke-width="6.8" fill="none"/>
<path d="M1902.94 189.8 L1902.95 191.32 L1902.98 192.83 L1903.02 194.34 L1903.08 195.85 L1903.16 197.37 L1903.24 198.88 L1903.34 200.39 L1903.44 201.9 L1903.56 203.41 L1903.73 204.93 L1903.97 206.44 L1904.25 207.95 L1904.57 209.46 L1904.91 210.98 L1905.31 212.49 L1905.8 214 L1906.35 215.51 L1906.96 217.02 L1907.61 218.54 L1908.29 220.05 L1909 221.56 L1909.71 223.07 L1910.42 224.59 L1911.13 226.1 L1911.85 227.61 L1912.59 229.12 L1913.37 230.63 L1914.19 232.15 L1915.06 233.66 L1916.01 235.17 L1917.03 236.68 L1918.15 238.2 L1919.47 239.71 L1921 241.22 L1922.7 242.73 L1924.52 244.24 L1926.41 245.76 L1928.33 247.27 L1930.23 248.78 L1932.06 250.29 L1933.79 251.8 L1935.52 253.32 L1937.26 254.83 L1939.01 256.34 L1940.75 257.85 L1942.46 259.37 L1944.13 260.88 L1945.73 262.39 L1947.25 263.9 L1948.67 265.41 L1950.01 266.93 L1951.28 268.44 L1952.5 269.95 L1953.68 271.46 L1954.83 272.98 L1955.98 274.49 L1957.13 276 L1958.3 277.51 L1959.5 279.02 L1960.73 280.54 L1961.96 282.05 L1963.2 283.56 L1964.43 285.07 L1965.66 286.59 L1966.87 288.1 L1968.06 289.61 L1969.23 291.12 L1970.37 292.63 L1971.58 294.15 L1972.85 295.66 L1974.13 297.17 L1975.38 298.68 L1976.56 300.2 L1977.61 301.71 L1978.49 303.22 L1979.16 304.73 L1979.6 306.24 L1979.97 307.76 L1980.3 309.27 L1980.56 310.78 L1980.74 312.29 L1980.8 313.8 L1980.56 315.32 L1979.99 316.83 L1979.29 318.34 L1978.63 319.85 L1977.92 321.37 L1977.14 322.88 L1976.31 324.39 L1975.44 325.9 L1974.53 327.41 L1973.61 328.93 L1972.7 330.44 L1971.79 331.95 L1970.92 333.46 L1970.09 334.98 L1969.3 336.49 L1968.51 338 L1967.71 339.51 L1966.86 341.02 L1965.94 342.54 L1964.93 344.05 L1963.81 345.56 L1962.51 347.07 L1960.87 348.59 L1958.93 350.1 L1956.76 351.61 L1954.45 353.12 L1952.05 354.63 L1949.65 356.15 L1947.33 357.66 L1945.16 359.17 L1943.17 360.68 L1941.19 362.2 L1939.19 363.71 L1937.22 365.22 L1935.29 366.73 L1933.44 368.24 L1931.67 369.76 L1930.03 371.27 L1928.53 372.78 L1927.19 374.29 L1925.93 375.81 L1924.75 377.32 L1923.64 378.83 L1922.58 380.34 L1921.58 381.85 L1920.61 383.37 L1919.68 384.88 L1918.78 386.39 L1917.9 387.9 L1917.05 389.41 L1916.22 390.93 L1915.42 392.44 L1914.64 393.95 L1913.9 395.46 L1913.19 396.98 L1912.51 398.49 L1911.87 400 L1911.26 401.51 L1910.67 403.02 L1910.1 404.54 L1909.55 406.05 L1909.02 407.56 L1908.52 409.07 L1908.04 410.59 L1907.59 412.1 L1907.16 413.61 L1906.76 415.12 L1906.36 416.63 L1905.97 418.15 L1905.59 419.66 L1905.24 421.17 L1904.91 422.68 L1904.6 424.2 L1904.33 425.71 L1904.1 427.22 L1903.89 428.73 L1903.7 430.24 L1903.51 431.76 L1903.32 433.27 L1903.15 434.78 L1902.99 436.29 L1902.84 437.81 L1902.71 439.32 L1902.6 440.83 L1902.51 442.34 L1902.44 443.85 L1902.4 445.37 L1896.6 445.37 L1896.56 443.85 L1896.49 442.34 L1896.4 440.83 L1896.29 439.32 L1896.16 437.81 L1896.01 436.29 L1895.85 434.78 L1895.68 433.27 L1895.49 431.76 L1895.3 430.24 L1895.11 428.73 L1894.9 427.22 L1894.67 425.71 L1894.4 424.2 L1894.09 422.68 L1893.76 421.17 L1893.41 419.66 L1893.03 418.15 L1892.64 416.63 L1892.24 415.12 L1891.84 413.61 L1891.41 412.1 L1890.96 410.59 L1890.48 409.07 L1889.98 407.56 L1889.45 406.05 L1888.9 404.54 L1888.33 403.02 L1887.74 401.51 L1887.13 400 L1886.49 398.49 L1885.81 396.98 L1885.1 395.46 L1884.36 393.95 L1883.58 392.44 L1882.78 390.93 L1881.95 389.41 L1881.1 387.9 L1880.22 386.39 L1879.32 384.88 L1878.39 383.37 L1877.42 381.85 L1876.42 380.34 L1875.36 378.83 L1874.25 377.32 L1873.07 375.81 L1871.81 374.29 L1870.47 372.78 L1868.97 371.27 L1867.33 369.76 L1865.56 368.24 L1863.71 366.73 L1861.78 365.22 L1859.81 363.71 L1857.81 362.2 L1855.83 360.68 L1853.84 359.17 L1851.67 357.66 L1849.35 356.15 L1846.95 354.63 L1844.55 353.12 L1842.24 351.61 L1840.07 350.1 L1838.13 348.59 L1836.49 347.07 L1835.19 345.56 L1834.07 344.05 L1833.06 342.54 L1832.14 341.02 L1831.29 339.51 L1830.49 338 L1829.7 336.49 L1828.91 334.98 L1828.08 333.46 L1827.21 331.95 L1826.3 330.44 L1825.39 328.93 L1824.47 327.41 L1823.56 325.9 L1822.69 324.39 L1821.86 322.88 L1821.08 321.37 L1820.37 319.85 L1819.71 318.34 L1819.01 316.83 L1818.44 315.32 L1818.2 313.8 L1818.26 312.29 L1818.44 310.78 L1818.7 309.27 L1819.03 307.76 L1819.4 306.24 L1819.84 304.73 L1820.51 303.22 L1821.39 301.71 L1822.44 300.2 L1823.62 298.68 L1824.87 297.17 L1826.15 295.66 L1827.42 294.15 L1828.63 292.63 L1829.77 291.12 L1830.94 289.61 L1832.13 288.1 L1833.34 286.59 L1834.57 285.07 L1835.8 283.56 L1837.04 282.05 L1838.27 280.54 L1839.5 279.02 L1840.7 277.51 L1841.87 276 L1843.02 274.49 L1844.17 272.98 L1845.32 271.46 L1846.5 269.95 L1847.72 268.44 L1848.99 266.93 L1850.33 265.41 L1851.75 263.9 L1853.27 262.39 L1854.87 260.88 L1856.54 259.37 L1858.25 257.85 L1859.99 256.34 L1861.74 254.83 L1863.48 253.32 L1865.21 251.8 L1866.94 250.29 L1868.77 248.78 L1870.67 247.27 L1872.59 245.76 L1874.48 244.24 L1876.3 242.73 L1878 241.22 L1879.53 239.71 L1880.85 238.2 L1881.97 236.68 L1882.99 235.17 L1883.94 233.66 L1884.81 232.15 L1885.63 230.63 L1886.41 229.12 L1887.15 227.61 L1887.87 226.1 L1888.58 224.59 L1889.29 223.07 L1890 221.56 L1890.71 220.05 L1891.39 218.54 L1892.04 217.02 L1892.65 215.51 L1893.2 214 L1893.69 212.49 L1894.09 210.98 L1894.43 209.46 L1894.75 207.95 L1895.03 206.44 L1895.27 204.93 L1895.44 203.41 L1895.56 201.9 L1895.66 200.39 L1895.76 198.88 L1895.84 197.37 L1895.92 195.85 L1895.98 194.34 L1896.02 192.83 L1896.05 191.32 L1896.06 189.8 Z" fill="#008B45" fill-opacity="0.5" stroke="#000" stroke-width="2.8" stroke-linejoin="round"/>
<path d="M1899.5 201.2 V286.1 M1899.5 346.3 V422.3" stroke="#000" stroke-width="2.7" fill="none"/>
<rect x="1816.5" y="286.1" width="166.3" height="60.2" fill="#008B45" fill-opacity="0.5" stroke="#000" stroke-width="2.8" stroke-linejoin="round"/>
<path d="M1816.5 313.8 H1982.8" stroke="#000" stroke-width="6.8" fill="none"/>
<path d="M1361.6 33.9 V469.5 H2023.5" stroke="#000" stroke-width="2.9" fill="none" stroke-linejoin="miter"/>
<text x="1341.1" y="432" font-size="24" text-anchor="end">2</text>
<text x="1341.1" y="354.06" font-size="24" text-anchor="end">4</text>
<text x="1341.1" y="276.12" font-size="24" text-anchor="end">6</text>
<text x="1341.1" y="198.18" font-size="24" text-anchor="end">8</text>
<text x="1341.1" y="120.24" font-size="24" text-anchor="end">10</text>
<text x="1341.1" y="42.3" font-size="24" text-anchor="end">12</text>
<path d="M1350.5 423.6 H1361.6 M1350.5 345.66 H1361.6 M1350.5 267.72 H1361.6 M1350.5 189.78 H1361.6 M1350.5 111.84 H1361.6 M1350.5 33.9 H1363.05 M1485.6 469.5 V480.6 M1692.4 469.5 V480.6 M1899.5 469.5 V480.6" stroke="#000" stroke-width="2.9" fill="none"/>
<text x="1485.6" y="507.4" font-size="24.3" text-anchor="middle">Normal</text>
<text x="1692.4" y="507.4" font-size="24.3" text-anchor="middle">Stage I&amp;Stage II</text>
<text x="1899.5" y="507.4" font-size="24.3" text-anchor="middle">Stage III&amp;Stage IV</text>
<text x="1692.6" y="544.7" font-size="28" text-anchor="middle">Pathologic stage</text>
<text transform="translate(1262.4 251.7) rotate(-90)" font-size="28" text-anchor="middle" textLength="293.5" lengthAdjust="spacing">The expression of SVIL</text>
<text transform="translate(1288.5 251.7) rotate(-90)" font-size="28" text-anchor="middle" textLength="178.5" lengthAdjust="spacing">Log<tspan font-size="19.6" dy="7">2</tspan><tspan dy="-7"> (TPM+1)</tspan></text>
<text x="1795.95" y="62.8" font-size="22.7" text-anchor="middle">***</text>
<text x="1692.55" y="85.01" font-size="22.7" text-anchor="middle">**</text>
<text x="1589" y="106.84" font-size="22.7" text-anchor="middle">***</text>
<path d="M1692.4 68 V60.4 H1899.5 V68 M1485.6 90.21 V82.61 H1899.5 V90.21 M1485.6 112.04 V104.44 H1692.4 V112.04" stroke="#000" stroke-width="2.7" fill="none" stroke-linejoin="round" stroke-linecap="round"/>
</g>
<g>
<text transform="translate(4.7 669.6) scale(0.88 1)" font-size="35.5">D</text>
<text x="290.4" y="643.4" font-size="24" text-anchor="middle">TCGA-BLCA</text>
<path d="M189.04 729.42 L189.35 730.93 L189.64 732.45 L189.92 733.96 L190.19 735.47 L190.44 736.98 L190.67 738.5 L190.88 740.01 L191.07 741.52 L191.23 743.03 L191.39 744.54 L191.55 746.06 L191.7 747.57 L191.85 749.08 L191.97 750.59 L192.08 752.1 L192.15 753.62 L192.19 755.13 L192.2 756.64 L192.16 758.15 L192.09 759.67 L192.01 761.18 L191.91 762.69 L191.82 764.2 L191.72 765.71 L191.6 767.23 L191.46 768.74 L191.31 770.25 L191.14 771.76 L190.97 773.28 L190.8 774.79 L190.62 776.3 L190.45 777.81 L190.28 779.32 L190.11 780.84 L189.96 782.35 L189.82 783.86 L189.7 785.37 L189.59 786.89 L189.48 788.4 L189.37 789.91 L189.26 791.42 L189.15 792.93 L189.05 794.45 L188.95 795.96 L188.86 797.47 L188.77 798.98 L188.7 800.49 L188.64 802.01 L188.6 803.52 L188.57 805.03 L188.56 806.54 L188.57 808.06 L188.59 809.57 L188.64 811.08 L188.7 812.59 L188.77 814.1 L188.85 815.62 L188.95 817.13 L189.05 818.64 L189.17 820.15 L189.29 821.67 L189.42 823.18 L189.55 824.69 L189.69 826.2 L189.83 827.71 L189.97 829.23 L190.12 830.74 L190.3 832.25 L190.51 833.76 L190.75 835.28 L191.01 836.79 L191.29 838.3 L191.59 839.81 L191.9 841.32 L192.22 842.84 L192.54 844.35 L192.87 845.86 L193.19 847.37 L193.5 848.88 L193.8 850.4 L194.09 851.91 L194.36 853.42 L194.61 854.93 L194.84 856.45 L195.1 857.96 L195.36 859.47 L195.62 860.98 L195.89 862.49 L196.16 864.01 L196.42 865.52 L196.67 867.03 L196.91 868.54 L197.14 870.06 L197.35 871.57 L197.53 873.08 L197.69 874.59 L197.81 876.1 L197.91 877.62 L197.96 879.13 L197.98 880.64 L197.97 882.15 L197.94 883.67 L197.9 885.18 L197.84 886.69 L197.77 888.2 L197.7 889.71 L197.61 891.23 L197.52 892.74 L197.4 894.25 L197.22 895.76 L196.99 897.27 L196.73 898.79 L196.45 900.3 L196.17 901.81 L195.88 903.32 L195.58 904.84 L195.25 906.35 L194.91 907.86 L194.55 909.37 L194.2 910.88 L193.85 912.4 L193.5 913.91 L193.15 915.42 L192.8 916.93 L192.43 918.45 L192.07 919.96 L191.69 921.47 L191.32 922.98 L190.93 924.49 L190.54 926.01 L190.15 927.52 L189.74 929.03 L189.34 930.54 L188.92 932.06 L160.28 932.06 L159.86 930.54 L159.46 929.03 L159.05 927.52 L158.66 926.01 L158.27 924.49 L157.88 922.98 L157.51 921.47 L157.13 919.96 L156.77 918.45 L156.4 916.93 L156.05 915.42 L155.7 913.91 L155.35 912.4 L155 910.88 L154.65 909.37 L154.29 907.86 L153.95 906.35 L153.62 904.84 L153.32 903.32 L153.03 901.81 L152.75 900.3 L152.47 898.79 L152.21 897.27 L151.98 895.76 L151.8 894.25 L151.68 892.74 L151.59 891.23 L151.5 889.71 L151.43 888.2 L151.36 886.69 L151.3 885.18 L151.26 883.67 L151.23 882.15 L151.22 880.64 L151.24 879.13 L151.29 877.62 L151.39 876.1 L151.51 874.59 L151.67 873.08 L151.85 871.57 L152.06 870.06 L152.29 868.54 L152.53 867.03 L152.78 865.52 L153.04 864.01 L153.31 862.49 L153.58 860.98 L153.84 859.47 L154.1 857.96 L154.36 856.45 L154.59 854.93 L154.84 853.42 L155.11 851.91 L155.4 850.4 L155.7 848.88 L156.01 847.37 L156.33 845.86 L156.66 844.35 L156.98 842.84 L157.3 841.32 L157.61 839.81 L157.91 838.3 L158.19 836.79 L158.45 835.28 L158.69 833.76 L158.9 832.25 L159.08 830.74 L159.23 829.23 L159.37 827.71 L159.51 826.2 L159.65 824.69 L159.78 823.18 L159.91 821.67 L160.03 820.15 L160.15 818.64 L160.25 817.13 L160.35 815.62 L160.43 814.1 L160.5 812.59 L160.56 811.08 L160.61 809.57 L160.63 808.06 L160.64 806.54 L160.63 805.03 L160.6 803.52 L160.56 802.01 L160.5 800.49 L160.43 798.98 L160.34 797.47 L160.25 795.96 L160.15 794.45 L160.05 792.93 L159.94 791.42 L159.83 789.91 L159.72 788.4 L159.61 786.89 L159.5 785.37 L159.38 783.86 L159.24 782.35 L159.09 780.84 L158.92 779.32 L158.75 777.81 L158.58 776.3 L158.4 774.79 L158.23 773.28 L158.06 771.76 L157.89 770.25 L157.74 768.74 L157.6 767.23 L157.48 765.71 L157.38 764.2 L157.29 762.69 L157.19 761.18 L157.11 759.67 L157.04 758.15 L157 756.64 L157.01 755.13 L157.05 753.62 L157.12 752.1 L157.23 750.59 L157.35 749.08 L157.5 747.57 L157.65 746.06 L157.81 744.54 L157.97 743.03 L158.13 741.52 L158.32 740.01 L158.53 738.5 L158.76 736.98 L159.01 735.47 L159.28 733.96 L159.56 732.45 L159.85 730.93 L160.16 729.42 Z" fill="#3B4992" fill-opacity="0.5" stroke="#000" stroke-width="2.5" stroke-linejoin="round"/>
<path d="M174.6 729.42 V763.53 M174.6 893.65 V932.06" stroke="#000" stroke-width="2.4" fill="none"/>
<rect x="128" y="763.53" width="93.2" height="130.12" fill="#3B4992" fill-opacity="0.5" stroke="#000" stroke-width="2.5" stroke-linejoin="round"/>
<path d="M128 857.56 H221.2" stroke="#000" stroke-width="5.7" fill="none"/>
<path d="M291.12 785.86 L291.12 787.38 L291.15 788.9 L291.18 790.42 L291.23 791.93 L291.28 793.45 L291.34 794.97 L291.41 796.49 L291.51 798.01 L291.64 799.53 L291.79 801.05 L291.96 802.57 L292.15 804.09 L292.34 805.61 L292.54 807.13 L292.76 808.65 L293.01 810.16 L293.29 811.68 L293.59 813.2 L293.92 814.72 L294.26 816.24 L294.63 817.76 L295.01 819.28 L295.42 820.8 L295.87 822.32 L296.35 823.84 L296.87 825.36 L297.42 826.88 L298 828.4 L298.62 829.91 L299.27 831.43 L300.01 832.95 L300.81 834.47 L301.66 835.99 L302.55 837.51 L303.47 839.03 L304.4 840.55 L305.33 842.07 L306.26 843.59 L307.22 845.11 L308.19 846.63 L309.19 848.14 L310.21 849.66 L311.24 851.18 L312.29 852.7 L313.35 854.22 L314.42 855.74 L315.53 857.26 L316.65 858.78 L317.79 860.3 L318.93 861.82 L320.07 863.34 L321.22 864.86 L322.35 866.37 L323.52 867.89 L324.7 869.41 L325.88 870.93 L327.03 872.45 L328.13 873.97 L329.17 875.49 L330.25 877.01 L331.34 878.53 L332.31 880.05 L333 881.57 L333.37 883.09 L333.67 884.6 L333.91 886.12 L334.07 887.64 L334.13 889.16 L334.08 890.68 L333.93 892.2 L333.7 893.72 L333.42 895.24 L333.1 896.76 L332.57 898.28 L331.85 899.8 L331.08 901.32 L330.36 902.83 L329.76 904.35 L329.13 905.87 L328.53 907.39 L328.06 908.91 L327.79 910.43 L327.68 911.95 L327.6 913.47 L327.54 914.99 L327.49 916.51 L327.43 918.03 L327.34 919.55 L327.2 921.06 L327.01 922.58 L326.76 924.1 L326.45 925.62 L326.07 927.14 L325.44 928.66 L324.53 930.18 L323.48 931.7 L322.4 933.22 L321.4 934.74 L320.35 936.26 L319.26 937.78 L318.16 939.3 L317.06 940.81 L316.01 942.33 L315.01 943.85 L314.04 945.37 L313.1 946.89 L312.18 948.41 L311.28 949.93 L310.41 951.45 L309.57 952.97 L308.76 954.49 L307.98 956.01 L307.22 957.53 L306.48 959.04 L305.75 960.56 L305.02 962.08 L304.3 963.6 L303.58 965.12 L302.88 966.64 L302.19 968.16 L301.53 969.68 L300.9 971.2 L300.3 972.72 L299.73 974.24 L299.17 975.76 L298.64 977.27 L298.13 978.79 L297.66 980.31 L297.21 981.83 L296.78 983.35 L296.37 984.87 L295.98 986.39 L295.62 987.91 L295.3 989.43 L295 990.95 L294.73 992.47 L294.48 993.99 L294.24 995.5 L294.02 997.02 L293.83 998.54 L293.67 1000.06 L293.53 1001.58 L293.39 1003.1 L293.26 1004.62 L293.16 1006.14 L293.06 1007.66 L293 1009.18 L286.8 1009.18 L286.74 1007.66 L286.64 1006.14 L286.54 1004.62 L286.41 1003.1 L286.27 1001.58 L286.13 1000.06 L285.97 998.54 L285.78 997.02 L285.56 995.5 L285.32 993.99 L285.07 992.47 L284.8 990.95 L284.5 989.43 L284.18 987.91 L283.82 986.39 L283.43 984.87 L283.02 983.35 L282.59 981.83 L282.14 980.31 L281.67 978.79 L281.16 977.27 L280.63 975.76 L280.07 974.24 L279.5 972.72 L278.9 971.2 L278.27 969.68 L277.61 968.16 L276.92 966.64 L276.22 965.12 L275.5 963.6 L274.78 962.08 L274.05 960.56 L273.32 959.04 L272.58 957.53 L271.82 956.01 L271.04 954.49 L270.23 952.97 L269.39 951.45 L268.52 949.93 L267.62 948.41 L266.7 946.89 L265.76 945.37 L264.79 943.85 L263.79 942.33 L262.74 940.81 L261.64 939.3 L260.54 937.78 L259.45 936.26 L258.4 934.74 L257.4 933.22 L256.32 931.7 L255.27 930.18 L254.36 928.66 L253.73 927.14 L253.35 925.62 L253.04 924.1 L252.79 922.58 L252.6 921.06 L252.46 919.55 L252.37 918.03 L252.31 916.51 L252.26 914.99 L252.2 913.47 L252.12 911.95 L252.01 910.43 L251.74 908.91 L251.27 907.39 L250.67 905.87 L250.04 904.35 L249.44 902.83 L248.72 901.32 L247.95 899.8 L247.23 898.28 L246.7 896.76 L246.38 895.24 L246.1 893.72 L245.87 892.2 L245.72 890.68 L245.67 889.16 L245.73 887.64 L245.89 886.12 L246.13 884.6 L246.43 883.09 L246.8 881.57 L247.49 880.05 L248.46 878.53 L249.55 877.01 L250.63 875.49 L251.67 873.97 L252.77 872.45 L253.92 870.93 L255.1 869.41 L256.28 867.89 L257.45 866.37 L258.58 864.86 L259.73 863.34 L260.87 861.82 L262.01 860.3 L263.15 858.78 L264.27 857.26 L265.38 855.74 L266.45 854.22 L267.51 852.7 L268.56 851.18 L269.59 849.66 L270.61 848.14 L271.61 846.63 L272.58 845.11 L273.54 843.59 L274.47 842.07 L275.4 840.55 L276.33 839.03 L277.25 837.51 L278.14 835.99 L278.99 834.47 L279.79 832.95 L280.53 831.43 L281.18 829.91 L281.8 828.4 L282.38 826.88 L282.93 825.36 L283.45 823.84 L283.93 822.32 L284.38 820.8 L284.79 819.28 L285.17 817.76 L285.54 816.24 L285.88 814.72 L286.21 813.2 L286.51 811.68 L286.79 810.16 L287.04 808.65 L287.26 807.13 L287.46 805.61 L287.65 804.09 L287.84 802.57 L288.01 801.05 L288.16 799.53 L288.29 798.01 L288.39 796.49 L288.46 794.97 L288.52 793.45 L288.57 791.93 L288.62 790.42 L288.65 788.9 L288.68 787.38 L288.68 785.86 Z" fill="#EE0000" fill-opacity="0.5" stroke="#000" stroke-width="2.5" stroke-linejoin="round"/>
<path d="M289.9 814 V877.7 M289.9 929.1 V1005" stroke="#000" stroke-width="2.4" fill="none"/>
<rect x="243.3" y="877.7" width="93.1" height="51.4" fill="#EE0000" fill-opacity="0.5" stroke="#000" stroke-width="2.5" stroke-linejoin="round"/>
<path d="M243.3 900.9 H336.4" stroke="#000" stroke-width="5.7" fill="none"/>
<path d="M442.7 845.46 L443.51 847 L444.25 848.53 L444.87 850.06 L445.34 851.6 L445.62 853.13 L445.68 854.66 L445.68 856.2 L445.68 857.73 L445.68 859.27 L445.63 860.8 L445.38 862.33 L444.99 863.87 L444.49 865.4 L443.97 866.93 L443.43 868.47 L442.75 870 L441.96 871.54 L441.12 873.07 L440.28 874.6 L439.49 876.14 L438.7 877.67 L437.88 879.2 L437.07 880.74 L436.31 882.27 L435.62 883.81 L435.03 885.34 L434.5 886.87 L434 888.41 L433.55 889.94 L433.16 891.47 L432.85 893.01 L432.61 894.54 L432.39 896.08 L432.18 897.61 L432.01 899.14 L431.87 900.68 L431.78 902.21 L431.75 903.74 L431.75 905.28 L431.75 906.81 L431.75 908.35 L431.75 909.88 L431.75 911.41 L431.75 912.95 L431.78 914.48 L431.9 916.01 L432.09 917.55 L432.31 919.08 L432.52 920.62 L432.68 922.15 L432.75 923.68 L432.75 925.22 L432.75 926.75 L432.75 928.28 L432.75 929.82 L432.75 931.35 L432.75 932.89 L432.71 934.42 L432.51 935.95 L432.18 937.49 L431.76 939.02 L431.27 940.55 L430.77 942.09 L430.27 943.62 L429.72 945.16 L429.08 946.69 L428.37 948.22 L427.6 949.76 L426.78 951.29 L384.82 951.29 L384 949.76 L383.23 948.22 L382.52 946.69 L381.88 945.16 L381.33 943.62 L380.83 942.09 L380.33 940.55 L379.84 939.02 L379.42 937.49 L379.09 935.95 L378.89 934.42 L378.85 932.89 L378.85 931.35 L378.85 929.82 L378.85 928.28 L378.85 926.75 L378.85 925.22 L378.85 923.68 L378.92 922.15 L379.08 920.62 L379.29 919.08 L379.51 917.55 L379.7 916.01 L379.82 914.48 L379.85 912.95 L379.85 911.41 L379.85 909.88 L379.85 908.35 L379.85 906.81 L379.85 905.28 L379.85 903.74 L379.82 902.21 L379.73 900.68 L379.59 899.14 L379.42 897.61 L379.21 896.08 L378.99 894.54 L378.75 893.01 L378.44 891.47 L378.05 889.94 L377.6 888.41 L377.1 886.87 L376.57 885.34 L375.98 883.81 L375.29 882.27 L374.53 880.74 L373.72 879.2 L372.9 877.67 L372.11 876.14 L371.32 874.6 L370.48 873.07 L369.64 871.54 L368.85 870 L368.17 868.47 L367.63 866.93 L367.11 865.4 L366.61 863.87 L366.22 862.33 L365.97 860.8 L365.92 859.27 L365.92 857.73 L365.92 856.2 L365.92 854.66 L365.98 853.13 L366.26 851.6 L366.73 850.06 L367.35 848.53 L368.09 847 L368.9 845.46 Z" fill="#008B45" fill-opacity="0.5" stroke="#000" stroke-width="2.5" stroke-linejoin="round"/>
<path d="M405.8 845.5 V854.2 M405.8 923.8 V951.3" stroke="#000" stroke-width="2.4" fill="none"/>
<rect x="359.1" y="854.2" width="93.1" height="69.6" fill="#008B45" fill-opacity="0.5" stroke="#000" stroke-width="2.5" stroke-linejoin="round"/>
<path d="M359.1 885 H452.2" stroke="#000" stroke-width="5.7" fill="none"/>
<path d="M105.4 653.6 V1025 H475" stroke="#000" stroke-width="2.6" fill="none" stroke-linejoin="miter"/>
<text x="87.6" y="992.2" font-size="20.5" text-anchor="end">2</text>
<text x="87.6" y="925.98" font-size="20.5" text-anchor="end">4</text>
<text x="87.6" y="859.76" font-size="20.5" text-anchor="end">6</text>
<text x="87.6" y="793.54" font-size="20.5" text-anchor="end">8</text>
<text x="87.6" y="727.32" font-size="20.5" text-anchor="end">10</text>
<text x="87.6" y="661.1" font-size="20.5" text-anchor="end">12</text>
<path d="M95.8 984.7 H105.4 M95.8 918.48 H105.4 M95.8 852.26 H105.4 M95.8 786.04 H105.4 M95.8 719.82 H105.4 M95.8 653.6 H106.7 M174.6 1025 V1034.6 M290.2 1025 V1034.6 M405.8 1025 V1034.6" stroke="#000" stroke-width="2.6" fill="none"/>
<text x="174.6" y="1057.7" font-size="21.2" text-anchor="middle">Normal</text>
<text x="290.2" y="1057.7" font-size="21.2" text-anchor="middle">M0</text>
<text x="405.8" y="1057.7" font-size="21.2" text-anchor="middle">M1</text>
<text x="290.4" y="1088.9" font-size="24" text-anchor="middle">M stage</text>
<text transform="translate(20.5 839.3) rotate(-90)" font-size="24" text-anchor="middle" textLength="251" lengthAdjust="spacing">The expression of SVIL</text>
<text transform="translate(43.1 839.3) rotate(-90)" font-size="24" text-anchor="middle" textLength="153" lengthAdjust="spacing">Log<tspan font-size="16.8" dy="6">2</tspan><tspan dy="-6"> (TPM+1)</tspan></text>
<text x="348" y="671.61" font-size="21" text-anchor="middle">ns</text>
<text x="290.2" y="697.49" font-size="19.3" text-anchor="middle">*</text>
<text x="232.4" y="716.03" font-size="19.3" text-anchor="middle">***</text>
<path d="M290.2 682.51 V676.11 H405.8 V682.51 M174.6 701.39 V694.99 H405.8 V701.39 M174.6 719.93 V713.53 H290.2 V719.93" stroke="#000" stroke-width="2.4" fill="none" stroke-linejoin="round" stroke-linecap="round"/>
</g>
<g>
<text transform="translate(525.3 654.1) scale(0.72 1)" font-size="35.5">E</text>
<text x="808.07" y="643.4" font-size="24" text-anchor="middle">TCGA-BLCA</text>
<path d="M705.48 729.42 L705.75 730.93 L706.02 732.45 L706.28 733.96 L706.52 735.47 L706.75 736.98 L706.96 738.5 L707.15 740.01 L707.33 741.52 L707.48 743.03 L707.62 744.54 L707.77 746.06 L707.91 747.57 L708.04 749.08 L708.15 750.59 L708.25 752.1 L708.32 753.62 L708.36 755.13 L708.36 756.64 L708.32 758.15 L708.26 759.67 L708.19 761.18 L708.1 762.69 L708.02 764.2 L707.92 765.71 L707.81 767.23 L707.68 768.74 L707.55 770.25 L707.4 771.76 L707.24 773.28 L707.08 774.79 L706.92 776.3 L706.76 777.81 L706.6 779.32 L706.45 780.84 L706.31 782.35 L706.19 783.86 L706.07 785.37 L705.98 786.89 L705.88 788.4 L705.78 789.91 L705.68 791.42 L705.58 792.93 L705.48 794.45 L705.39 795.96 L705.31 797.47 L705.23 798.98 L705.16 800.49 L705.11 802.01 L705.07 803.52 L705.04 805.03 L705.03 806.54 L705.04 808.06 L705.06 809.57 L705.1 811.08 L705.16 812.59 L705.22 814.1 L705.3 815.62 L705.39 817.13 L705.48 818.64 L705.59 820.15 L705.7 821.67 L705.82 823.18 L705.94 824.69 L706.06 826.2 L706.19 827.71 L706.32 829.23 L706.46 830.74 L706.62 832.25 L706.81 833.76 L707.03 835.28 L707.27 836.79 L707.53 838.3 L707.81 839.81 L708.09 841.32 L708.38 842.84 L708.68 844.35 L708.97 845.86 L709.26 847.37 L709.55 848.88 L709.83 850.4 L710.09 851.91 L710.34 853.42 L710.56 854.93 L710.78 856.45 L711.01 857.96 L711.25 859.47 L711.49 860.98 L711.74 862.49 L711.98 864.01 L712.22 865.52 L712.45 867.03 L712.67 868.54 L712.88 870.06 L713.07 871.57 L713.23 873.08 L713.38 874.59 L713.49 876.1 L713.58 877.62 L713.63 879.13 L713.64 880.64 L713.63 882.15 L713.61 883.67 L713.57 885.18 L713.52 886.69 L713.46 888.2 L713.39 889.71 L713.31 891.23 L713.23 892.74 L713.12 894.25 L712.95 895.76 L712.74 897.27 L712.5 898.79 L712.24 900.3 L711.99 901.81 L711.73 903.32 L711.45 904.84 L711.15 906.35 L710.84 907.86 L710.51 909.37 L710.19 910.88 L709.87 912.4 L709.55 913.91 L709.23 915.42 L708.91 916.93 L708.58 918.45 L708.24 919.96 L707.9 921.47 L707.55 922.98 L707.2 924.49 L706.85 926.01 L706.48 927.52 L706.12 929.03 L705.74 930.54 L705.37 932.06 L679.17 932.06 L678.8 930.54 L678.42 929.03 L678.06 927.52 L677.69 926.01 L677.34 924.49 L676.99 922.98 L676.64 921.47 L676.3 919.96 L675.96 918.45 L675.63 916.93 L675.31 915.42 L674.99 913.91 L674.67 912.4 L674.35 910.88 L674.03 909.37 L673.7 907.86 L673.39 906.35 L673.09 904.84 L672.81 903.32 L672.55 901.81 L672.3 900.3 L672.04 898.79 L671.8 897.27 L671.59 895.76 L671.42 894.25 L671.31 892.74 L671.23 891.23 L671.15 889.71 L671.08 888.2 L671.02 886.69 L670.97 885.18 L670.93 883.67 L670.91 882.15 L670.9 880.64 L670.91 879.13 L670.96 877.62 L671.05 876.1 L671.16 874.59 L671.31 873.08 L671.47 871.57 L671.66 870.06 L671.87 868.54 L672.09 867.03 L672.32 865.52 L672.56 864.01 L672.8 862.49 L673.05 860.98 L673.29 859.47 L673.53 857.96 L673.76 856.45 L673.98 854.93 L674.2 853.42 L674.45 851.91 L674.71 850.4 L674.99 848.88 L675.28 847.37 L675.57 845.86 L675.86 844.35 L676.16 842.84 L676.45 841.32 L676.73 839.81 L677.01 838.3 L677.27 836.79 L677.51 835.28 L677.73 833.76 L677.92 832.25 L678.08 830.74 L678.22 829.23 L678.35 827.71 L678.48 826.2 L678.6 824.69 L678.72 823.18 L678.84 821.67 L678.95 820.15 L679.06 818.64 L679.15 817.13 L679.24 815.62 L679.32 814.1 L679.38 812.59 L679.44 811.08 L679.48 809.57 L679.5 808.06 L679.51 806.54 L679.5 805.03 L679.47 803.52 L679.43 802.01 L679.38 800.49 L679.31 798.98 L679.23 797.47 L679.15 795.96 L679.06 794.45 L678.96 792.93 L678.86 791.42 L678.76 789.91 L678.66 788.4 L678.56 786.89 L678.47 785.37 L678.35 783.86 L678.23 782.35 L678.09 780.84 L677.94 779.32 L677.78 777.81 L677.62 776.3 L677.46 774.79 L677.3 773.28 L677.14 771.76 L676.99 770.25 L676.86 768.74 L676.73 767.23 L676.62 765.71 L676.52 764.2 L676.44 762.69 L676.35 761.18 L676.28 759.67 L676.22 758.15 L676.18 756.64 L676.18 755.13 L676.22 753.62 L676.29 752.1 L676.39 750.59 L676.5 749.08 L676.63 747.57 L676.77 746.06 L676.92 744.54 L677.06 743.03 L677.21 741.52 L677.39 740.01 L677.58 738.5 L677.79 736.98 L678.02 735.47 L678.26 733.96 L678.52 732.45 L678.79 730.93 L679.06 729.42 Z" fill="#3B4992" fill-opacity="0.5" stroke="#000" stroke-width="2.5" stroke-linejoin="round"/>
<path d="M692.27 729.42 V763.53 M692.27 893.65 V932.06" stroke="#000" stroke-width="2.4" fill="none"/>
<rect x="645.67" y="763.53" width="93.2" height="130.12" fill="#3B4992" fill-opacity="0.5" stroke="#000" stroke-width="2.5" stroke-linejoin="round"/>
<path d="M645.67 857.56 H738.87" stroke="#000" stroke-width="5.7" fill="none"/>
<path d="M809.35 785.88 L809.36 787.39 L809.37 788.91 L809.39 790.42 L809.42 791.94 L809.45 793.45 L809.49 794.97 L809.54 796.48 L809.59 798 L809.65 799.51 L809.71 801.03 L809.78 802.54 L809.85 804.06 L809.95 805.57 L810.09 807.09 L810.26 808.6 L810.45 810.12 L810.67 811.63 L810.9 813.15 L811.14 814.66 L811.38 816.18 L811.65 817.69 L811.95 819.2 L812.29 820.72 L812.65 822.23 L813.05 823.75 L813.49 825.26 L813.97 826.78 L814.53 828.29 L815.21 829.81 L816 831.32 L816.87 832.84 L817.8 834.35 L818.76 835.87 L819.74 837.38 L820.72 838.9 L821.74 840.41 L822.83 841.93 L823.97 843.44 L825.14 844.96 L826.32 846.47 L827.48 847.99 L828.61 849.5 L829.68 851.02 L830.73 852.53 L831.77 854.05 L832.8 855.56 L833.81 857.08 L834.8 858.59 L835.77 860.11 L836.7 861.62 L837.6 863.14 L838.49 864.65 L839.35 866.17 L840.2 867.68 L841.02 869.2 L841.82 870.71 L842.58 872.23 L843.3 873.74 L844.01 875.26 L844.72 876.77 L845.43 878.29 L846.11 879.8 L846.74 881.32 L847.31 882.83 L847.79 884.35 L848.15 885.86 L848.47 887.38 L848.77 888.89 L849.05 890.41 L849.31 891.92 L849.52 893.44 L849.67 894.95 L849.76 896.47 L849.78 897.98 L849.77 899.5 L849.74 901.01 L849.69 902.53 L849.62 904.04 L849.55 905.56 L849.46 907.07 L849.36 908.58 L849.24 910.1 L849.01 911.61 L848.68 913.13 L848.25 914.64 L847.75 916.16 L847.19 917.67 L846.58 919.19 L845.93 920.7 L845.19 922.22 L844.22 923.73 L843.05 925.25 L841.76 926.76 L840.39 928.28 L838.99 929.79 L837.64 931.31 L836.36 932.82 L835.11 934.34 L833.81 935.85 L832.49 937.37 L831.19 938.88 L829.93 940.4 L828.75 941.91 L827.68 943.43 L826.75 944.94 L825.92 946.46 L825.15 947.97 L824.42 949.49 L823.74 951 L823.09 952.52 L822.47 954.03 L821.87 955.55 L821.28 957.06 L820.73 958.58 L820.2 960.09 L819.69 961.61 L819.2 963.12 L818.71 964.64 L818.21 966.15 L817.71 967.67 L817.19 969.18 L816.65 970.7 L816.1 972.21 L815.55 973.73 L815.01 975.24 L814.5 976.76 L814.02 978.27 L813.59 979.79 L813.19 981.3 L812.81 982.82 L812.45 984.33 L812.11 985.85 L811.78 987.36 L811.48 988.88 L811.2 990.39 L810.94 991.91 L810.7 993.42 L810.46 994.93 L810.24 996.45 L810.03 997.96 L809.83 999.48 L809.65 1000.99 L809.49 1002.51 L809.35 1004.02 L806.45 1004.02 L806.31 1002.51 L806.15 1000.99 L805.97 999.48 L805.77 997.96 L805.56 996.45 L805.34 994.93 L805.1 993.42 L804.86 991.91 L804.6 990.39 L804.32 988.88 L804.02 987.36 L803.69 985.85 L803.35 984.33 L802.99 982.82 L802.61 981.3 L802.21 979.79 L801.78 978.27 L801.3 976.76 L800.79 975.24 L800.25 973.73 L799.7 972.21 L799.15 970.7 L798.61 969.18 L798.09 967.67 L797.59 966.15 L797.09 964.64 L796.6 963.12 L796.11 961.61 L795.6 960.09 L795.07 958.58 L794.52 957.06 L793.93 955.55 L793.33 954.03 L792.71 952.52 L792.06 951 L791.38 949.49 L790.65 947.97 L789.88 946.46 L789.05 944.94 L788.12 943.43 L787.05 941.91 L785.87 940.4 L784.61 938.88 L783.31 937.37 L781.99 935.85 L780.69 934.34 L779.44 932.82 L778.16 931.31 L776.81 929.79 L775.41 928.28 L774.04 926.76 L772.75 925.25 L771.58 923.73 L770.61 922.22 L769.87 920.7 L769.22 919.19 L768.61 917.67 L768.05 916.16 L767.55 914.64 L767.12 913.13 L766.79 911.61 L766.56 910.1 L766.44 908.58 L766.34 907.07 L766.25 905.56 L766.18 904.04 L766.11 902.53 L766.06 901.01 L766.03 899.5 L766.02 897.98 L766.04 896.47 L766.13 894.95 L766.28 893.44 L766.49 891.92 L766.75 890.41 L767.03 888.89 L767.33 887.38 L767.65 885.86 L768.01 884.35 L768.49 882.83 L769.06 881.32 L769.69 879.8 L770.37 878.29 L771.08 876.77 L771.79 875.26 L772.5 873.74 L773.22 872.23 L773.98 870.71 L774.78 869.2 L775.6 867.68 L776.45 866.17 L777.31 864.65 L778.2 863.14 L779.1 861.62 L780.03 860.11 L781 858.59 L781.99 857.08 L783 855.56 L784.03 854.05 L785.07 852.53 L786.12 851.02 L787.19 849.5 L788.32 847.99 L789.48 846.47 L790.66 844.96 L791.83 843.44 L792.97 841.93 L794.06 840.41 L795.08 838.9 L796.06 837.38 L797.04 835.87 L798 834.35 L798.93 832.84 L799.8 831.32 L800.59 829.81 L801.27 828.29 L801.83 826.78 L802.31 825.26 L802.75 823.75 L803.15 822.23 L803.51 820.72 L803.85 819.2 L804.15 817.69 L804.42 816.18 L804.66 814.66 L804.9 813.15 L805.13 811.63 L805.35 810.12 L805.54 808.6 L805.71 807.09 L805.85 805.57 L805.95 804.06 L806.02 802.54 L806.09 801.03 L806.15 799.51 L806.21 798 L806.26 796.48 L806.31 794.97 L806.35 793.45 L806.38 791.94 L806.41 790.42 L806.43 788.91 L806.44 787.39 L806.45 785.88 Z" fill="#EE0000" fill-opacity="0.5" stroke="#000" stroke-width="2.5" stroke-linejoin="round"/>
<path d="M807.9 814.1 V875.2 M807.9 923.4 V991.6" stroke="#000" stroke-width="2.4" fill="none"/>
<rect x="761.2" y="875.2" width="93.3" height="48.2" fill="#EE0000" fill-opacity="0.5" stroke="#000" stroke-width="2.5" stroke-linejoin="round"/>
<path d="M761.2 899.2 H854.5" stroke="#000" stroke-width="5.7" fill="none"/>
<path d="M924.62 795.28 L924.66 796.8 L924.76 798.31 L924.9 799.83 L925.06 801.35 L925.24 802.87 L925.45 804.38 L925.72 805.9 L926.07 807.42 L926.47 808.93 L926.91 810.45 L927.37 811.97 L927.84 813.49 L928.3 815 L928.75 816.52 L929.22 818.04 L929.71 819.55 L930.21 821.07 L930.73 822.59 L931.28 824.11 L931.84 825.62 L932.42 827.14 L933.03 828.66 L933.67 830.17 L934.34 831.69 L935.03 833.21 L935.75 834.73 L936.49 836.24 L937.26 837.76 L938.05 839.28 L938.87 840.79 L939.73 842.31 L940.63 843.83 L941.55 845.35 L942.49 846.86 L943.46 848.38 L944.43 849.9 L945.42 851.41 L946.44 852.93 L947.49 854.45 L948.56 855.97 L949.64 857.48 L950.73 859 L951.82 860.52 L952.89 862.03 L953.96 863.55 L955.05 865.07 L956.15 866.59 L957.24 868.1 L958.32 869.62 L959.38 871.14 L960.4 872.65 L961.38 874.17 L962.39 875.69 L963.45 877.21 L964.48 878.72 L965.41 880.24 L966.16 881.76 L966.66 883.27 L966.96 884.79 L967.24 886.31 L967.48 887.83 L967.67 889.34 L967.8 890.86 L967.87 892.38 L967.81 893.89 L967.53 895.41 L967.07 896.93 L966.48 898.45 L965.82 899.96 L965.14 901.48 L964.46 903 L963.62 904.51 L962.65 906.03 L961.6 907.55 L960.55 909.07 L959.56 910.58 L958.68 912.1 L957.89 913.62 L957.15 915.13 L956.43 916.65 L955.7 918.17 L954.95 919.68 L954.15 921.2 L953.29 922.72 L952.39 924.24 L951.47 925.75 L950.53 927.27 L949.58 928.79 L948.65 930.3 L947.75 931.82 L946.88 933.34 L946.02 934.86 L945.17 936.37 L944.33 937.89 L943.51 939.41 L942.7 940.92 L941.9 942.44 L941.13 943.96 L940.38 945.48 L939.63 946.99 L938.89 948.51 L938.16 950.03 L937.46 951.54 L936.78 953.06 L936.13 954.58 L935.51 956.1 L934.93 957.61 L934.36 959.13 L933.82 960.65 L933.3 962.16 L932.79 963.68 L932.3 965.2 L931.83 966.72 L931.38 968.23 L930.94 969.75 L930.51 971.27 L930.09 972.78 L929.69 974.3 L929.3 975.82 L928.93 977.34 L928.59 978.85 L928.26 980.37 L927.94 981.89 L927.62 983.4 L927.32 984.92 L927.03 986.44 L926.77 987.96 L926.53 989.47 L926.33 990.99 L926.15 992.51 L925.99 994.02 L925.82 995.54 L925.66 997.06 L925.51 998.58 L925.37 1000.09 L925.25 1001.61 L925.13 1003.13 L925.04 1004.64 L924.95 1006.16 L924.89 1007.68 L924.85 1009.2 L921.95 1009.2 L921.91 1007.68 L921.85 1006.16 L921.76 1004.64 L921.67 1003.13 L921.55 1001.61 L921.43 1000.09 L921.29 998.58 L921.14 997.06 L920.98 995.54 L920.81 994.02 L920.65 992.51 L920.47 990.99 L920.27 989.47 L920.03 987.96 L919.77 986.44 L919.48 984.92 L919.18 983.4 L918.86 981.89 L918.54 980.37 L918.21 978.85 L917.87 977.34 L917.5 975.82 L917.11 974.3 L916.71 972.78 L916.29 971.27 L915.86 969.75 L915.42 968.23 L914.97 966.72 L914.5 965.2 L914.01 963.68 L913.5 962.16 L912.98 960.65 L912.44 959.13 L911.87 957.61 L911.29 956.1 L910.67 954.58 L910.02 953.06 L909.34 951.54 L908.64 950.03 L907.91 948.51 L907.17 946.99 L906.42 945.48 L905.67 943.96 L904.9 942.44 L904.1 940.92 L903.29 939.41 L902.47 937.89 L901.63 936.37 L900.78 934.86 L899.92 933.34 L899.05 931.82 L898.15 930.3 L897.22 928.79 L896.27 927.27 L895.33 925.75 L894.41 924.24 L893.51 922.72 L892.65 921.2 L891.85 919.68 L891.1 918.17 L890.37 916.65 L889.65 915.13 L888.91 913.62 L888.12 912.1 L887.24 910.58 L886.25 909.07 L885.2 907.55 L884.15 906.03 L883.18 904.51 L882.34 903 L881.66 901.48 L880.98 899.96 L880.32 898.45 L879.73 896.93 L879.27 895.41 L878.99 893.89 L878.93 892.38 L879 890.86 L879.13 889.34 L879.32 887.83 L879.56 886.31 L879.84 884.79 L880.14 883.27 L880.64 881.76 L881.39 880.24 L882.32 878.72 L883.35 877.21 L884.41 875.69 L885.42 874.17 L886.4 872.65 L887.42 871.14 L888.48 869.62 L889.56 868.1 L890.65 866.59 L891.75 865.07 L892.84 863.55 L893.91 862.03 L894.98 860.52 L896.07 859 L897.16 857.48 L898.24 855.97 L899.31 854.45 L900.36 852.93 L901.38 851.41 L902.37 849.9 L903.34 848.38 L904.31 846.86 L905.25 845.35 L906.17 843.83 L907.07 842.31 L907.93 840.79 L908.75 839.28 L909.54 837.76 L910.31 836.24 L911.05 834.73 L911.77 833.21 L912.46 831.69 L913.13 830.17 L913.77 828.66 L914.38 827.14 L914.96 825.62 L915.52 824.11 L916.07 822.59 L916.59 821.07 L917.09 819.55 L917.58 818.04 L918.05 816.52 L918.5 815 L918.96 813.49 L919.43 811.97 L919.89 810.45 L920.33 808.93 L920.73 807.42 L921.08 805.9 L921.35 804.38 L921.56 802.87 L921.74 801.35 L921.9 799.83 L922.04 798.31 L922.14 796.8 L922.18 795.28 Z" fill="#008B45" fill-opacity="0.5" stroke="#000" stroke-width="2.5" stroke-linejoin="round"/>
<path d="M923.4 821.1 V873.6 M923.4 923.9 V993.9" stroke="#000" stroke-width="2.4" fill="none"/>
<rect x="876.8" y="873.6" width="93.1" height="50.3" fill="#008B45" fill-opacity="0.5" stroke="#000" stroke-width="2.5" stroke-linejoin="round"/>
<path d="M876.8 893.3 H969.9" stroke="#000" stroke-width="5.7" fill="none"/>
<path d="M623.07 653.6 V1025 H992.67" stroke="#000" stroke-width="2.6" fill="none" stroke-linejoin="miter"/>
<text x="605.27" y="992.2" font-size="20.5" text-anchor="end">2</text>
<text x="605.27" y="925.98" font-size="20.5" text-anchor="end">4</text>
<text x="605.27" y="859.76" font-size="20.5" text-anchor="end">6</text>
<text x="605.27" y="793.54" font-size="20.5" text-anchor="end">8</text>
<text x="605.27" y="727.32" font-size="20.5" text-anchor="end">10</text>
<text x="605.27" y="661.1" font-size="20.5" text-anchor="end">12</text>
<path d="M613.47 984.7 H623.07 M613.47 918.48 H623.07 M613.47 852.26 H623.07 M613.47 786.04 H623.07 M613.47 719.82 H623.07 M613.47 653.6 H624.37 M692.27 1025 V1034.6 M807.87 1025 V1034.6 M923.47 1025 V1034.6" stroke="#000" stroke-width="2.6" fill="none"/>
<text x="692.27" y="1057.7" font-size="21.2" text-anchor="middle">Normal</text>
<text x="807.87" y="1057.7" font-size="21.2" text-anchor="middle">&lt;=70</text>
<text x="923.47" y="1057.7" font-size="21.2" text-anchor="middle">&gt;70</text>
<text x="807.5" y="1088.8" font-size="24" text-anchor="middle">Age</text>
<text transform="translate(538.17 839.3) rotate(-90)" font-size="24" text-anchor="middle" textLength="251" lengthAdjust="spacing">The expression of SVIL</text>
<text transform="translate(560.77 839.3) rotate(-90)" font-size="24" text-anchor="middle" textLength="153" lengthAdjust="spacing">Log<tspan font-size="16.8" dy="6">2</tspan><tspan dy="-6"> (TPM+1)</tspan></text>
<text x="865.67" y="671.61" font-size="21" text-anchor="middle">ns</text>
<text x="807.87" y="697.49" font-size="19.3" text-anchor="middle">**</text>
<text x="750.07" y="716.03" font-size="19.3" text-anchor="middle">**</text>
<path d="M807.87 682.51 V676.11 H923.47 V682.51 M692.27 701.39 V694.99 H923.47 V701.39 M692.27 719.93 V713.53 H807.87 V719.93" stroke="#000" stroke-width="2.4" fill="none" stroke-linejoin="round" stroke-linecap="round"/>
</g>
<g>
<text transform="translate(1041.1 660.2) scale(0.75 1)" font-size="35.5">F</text>
<text x="1325.74" y="643.4" font-size="24" text-anchor="middle">TCGA-BLCA</text>
<path d="M1222.73 729.42 L1223 730.93 L1223.26 732.45 L1223.51 733.96 L1223.75 735.47 L1223.97 736.98 L1224.17 738.5 L1224.36 740.01 L1224.52 741.52 L1224.67 743.03 L1224.81 744.54 L1224.95 746.06 L1225.09 747.57 L1225.22 749.08 L1225.33 750.59 L1225.42 752.1 L1225.49 753.62 L1225.52 755.13 L1225.52 756.64 L1225.49 758.15 L1225.43 759.67 L1225.36 761.18 L1225.28 762.69 L1225.19 764.2 L1225.1 765.71 L1225 767.23 L1224.87 768.74 L1224.74 770.25 L1224.59 771.76 L1224.44 773.28 L1224.29 774.79 L1224.13 776.3 L1223.98 777.81 L1223.82 779.32 L1223.68 780.84 L1223.55 782.35 L1223.42 783.86 L1223.31 785.37 L1223.22 786.89 L1223.12 788.4 L1223.03 789.91 L1222.93 791.42 L1222.83 792.93 L1222.74 794.45 L1222.65 795.96 L1222.57 797.47 L1222.49 798.98 L1222.43 800.49 L1222.38 802.01 L1222.34 803.52 L1222.31 805.03 L1222.3 806.54 L1222.31 808.06 L1222.33 809.57 L1222.37 811.08 L1222.42 812.59 L1222.49 814.1 L1222.56 815.62 L1222.65 817.13 L1222.74 818.64 L1222.84 820.15 L1222.95 821.67 L1223.06 823.18 L1223.18 824.69 L1223.3 826.2 L1223.43 827.71 L1223.55 829.23 L1223.68 830.74 L1223.84 832.25 L1224.03 833.76 L1224.24 835.28 L1224.48 836.79 L1224.73 838.3 L1224.99 839.81 L1225.26 841.32 L1225.55 842.84 L1225.83 844.35 L1226.12 845.86 L1226.4 847.37 L1226.68 848.88 L1226.95 850.4 L1227.2 851.91 L1227.44 853.42 L1227.66 854.93 L1227.87 856.45 L1228.09 857.96 L1228.32 859.47 L1228.56 860.98 L1228.8 862.49 L1229.03 864.01 L1229.27 865.52 L1229.49 867.03 L1229.7 868.54 L1229.9 870.06 L1230.09 871.57 L1230.25 873.08 L1230.39 874.59 L1230.5 876.1 L1230.58 877.62 L1230.63 879.13 L1230.65 880.64 L1230.64 882.15 L1230.61 883.67 L1230.57 885.18 L1230.52 886.69 L1230.46 888.2 L1230.4 889.71 L1230.32 891.23 L1230.24 892.74 L1230.13 894.25 L1229.97 895.76 L1229.77 897.27 L1229.54 898.79 L1229.29 900.3 L1229.04 901.81 L1228.79 903.32 L1228.52 904.84 L1228.23 906.35 L1227.93 907.86 L1227.61 909.37 L1227.3 910.88 L1226.99 912.4 L1226.68 913.91 L1226.37 915.42 L1226.06 916.93 L1225.74 918.45 L1225.41 919.96 L1225.08 921.47 L1224.75 922.98 L1224.41 924.49 L1224.06 926.01 L1223.71 927.52 L1223.35 929.03 L1222.99 930.54 L1222.63 932.06 L1197.25 932.06 L1196.89 930.54 L1196.53 929.03 L1196.17 927.52 L1195.82 926.01 L1195.47 924.49 L1195.13 922.98 L1194.8 921.47 L1194.47 919.96 L1194.14 918.45 L1193.82 916.93 L1193.51 915.42 L1193.2 913.91 L1192.89 912.4 L1192.58 910.88 L1192.27 909.37 L1191.95 907.86 L1191.65 906.35 L1191.36 904.84 L1191.09 903.32 L1190.84 901.81 L1190.59 900.3 L1190.34 898.79 L1190.11 897.27 L1189.91 895.76 L1189.75 894.25 L1189.64 892.74 L1189.56 891.23 L1189.48 889.71 L1189.42 888.2 L1189.36 886.69 L1189.31 885.18 L1189.27 883.67 L1189.24 882.15 L1189.23 880.64 L1189.25 879.13 L1189.3 877.62 L1189.38 876.1 L1189.49 874.59 L1189.63 873.08 L1189.79 871.57 L1189.98 870.06 L1190.18 868.54 L1190.39 867.03 L1190.61 865.52 L1190.85 864.01 L1191.08 862.49 L1191.32 860.98 L1191.56 859.47 L1191.79 857.96 L1192.01 856.45 L1192.22 854.93 L1192.44 853.42 L1192.68 851.91 L1192.93 850.4 L1193.2 848.88 L1193.48 847.37 L1193.76 845.86 L1194.05 844.35 L1194.33 842.84 L1194.62 841.32 L1194.89 839.81 L1195.15 838.3 L1195.4 836.79 L1195.64 835.28 L1195.85 833.76 L1196.04 832.25 L1196.2 830.74 L1196.33 829.23 L1196.45 827.71 L1196.58 826.2 L1196.7 824.69 L1196.82 823.18 L1196.93 821.67 L1197.04 820.15 L1197.14 818.64 L1197.23 817.13 L1197.32 815.62 L1197.39 814.1 L1197.46 812.59 L1197.51 811.08 L1197.55 809.57 L1197.57 808.06 L1197.58 806.54 L1197.57 805.03 L1197.54 803.52 L1197.5 802.01 L1197.45 800.49 L1197.39 798.98 L1197.31 797.47 L1197.23 795.96 L1197.14 794.45 L1197.05 792.93 L1196.95 791.42 L1196.85 789.91 L1196.76 788.4 L1196.66 786.89 L1196.57 785.37 L1196.46 783.86 L1196.33 782.35 L1196.2 780.84 L1196.06 779.32 L1195.9 777.81 L1195.75 776.3 L1195.59 774.79 L1195.44 773.28 L1195.29 771.76 L1195.14 770.25 L1195.01 768.74 L1194.88 767.23 L1194.78 765.71 L1194.69 764.2 L1194.6 762.69 L1194.52 761.18 L1194.45 759.67 L1194.39 758.15 L1194.36 756.64 L1194.36 755.13 L1194.39 753.62 L1194.46 752.1 L1194.55 750.59 L1194.66 749.08 L1194.79 747.57 L1194.93 746.06 L1195.07 744.54 L1195.21 743.03 L1195.36 741.52 L1195.52 740.01 L1195.71 738.5 L1195.91 736.98 L1196.13 735.47 L1196.37 733.96 L1196.62 732.45 L1196.88 730.93 L1197.15 729.42 Z" fill="#3B4992" fill-opacity="0.5" stroke="#000" stroke-width="2.5" stroke-linejoin="round"/>
<path d="M1209.94 729.42 V763.53 M1209.94 893.65 V932.06" stroke="#000" stroke-width="2.4" fill="none"/>
<rect x="1163.34" y="763.53" width="93.2" height="130.12" fill="#3B4992" fill-opacity="0.5" stroke="#000" stroke-width="2.5" stroke-linejoin="round"/>
<path d="M1163.34 857.56 H1256.54" stroke="#000" stroke-width="5.7" fill="none"/>
<path d="M1328.7 785.88 L1328.7 787.39 L1328.7 788.91 L1328.7 790.42 L1328.7 791.94 L1328.7 793.45 L1328.67 794.97 L1328.55 796.48 L1328.35 798 L1328.12 799.51 L1327.92 801.03 L1327.78 802.54 L1327.76 804.06 L1327.8 805.57 L1327.9 807.09 L1328.03 808.6 L1328.19 810.12 L1328.39 811.63 L1328.6 813.15 L1328.84 814.66 L1329.1 816.18 L1329.49 817.69 L1330 819.2 L1330.6 820.72 L1331.27 822.23 L1331.99 823.75 L1332.75 825.26 L1333.51 826.78 L1334.32 828.29 L1335.24 829.81 L1336.24 831.32 L1337.3 832.84 L1338.41 834.35 L1339.53 835.87 L1340.64 837.38 L1341.72 838.9 L1342.79 840.41 L1343.89 841.93 L1345 843.44 L1346.12 844.96 L1347.23 846.47 L1348.32 847.99 L1349.39 849.5 L1350.42 851.02 L1351.43 852.53 L1352.42 854.05 L1353.4 855.56 L1354.37 857.08 L1355.32 858.59 L1356.26 860.11 L1357.21 861.62 L1358.15 863.14 L1359.11 864.65 L1360.08 866.17 L1361.05 867.68 L1361.99 869.2 L1362.89 870.71 L1363.74 872.23 L1364.52 873.74 L1365.27 875.26 L1366.03 876.77 L1366.79 878.29 L1367.51 879.8 L1368.16 881.32 L1368.71 882.83 L1369.12 884.35 L1369.37 885.86 L1369.53 887.38 L1369.66 888.89 L1369.76 890.41 L1369.82 891.92 L1369.82 893.44 L1369.72 894.95 L1369.51 896.47 L1369.22 897.98 L1368.88 899.5 L1368.5 901.01 L1368.11 902.53 L1367.62 904.04 L1367.01 905.56 L1366.28 907.07 L1365.48 908.58 L1364.61 910.1 L1363.72 911.61 L1362.82 913.13 L1361.92 914.64 L1360.98 916.16 L1359.97 917.67 L1358.92 919.19 L1357.83 920.7 L1356.72 922.22 L1355.59 923.73 L1354.46 925.25 L1353.31 926.76 L1352.13 928.28 L1350.91 929.79 L1349.67 931.31 L1348.43 932.82 L1347.19 934.34 L1345.97 935.85 L1344.78 937.37 L1343.56 938.88 L1342.26 940.4 L1340.93 941.91 L1339.62 943.43 L1338.41 944.94 L1337.35 946.46 L1336.49 947.97 L1335.91 949.49 L1335.49 951 L1335.13 952.52 L1334.83 954.03 L1334.57 955.55 L1334.32 957.06 L1334.07 958.58 L1333.81 960.09 L1333.51 961.61 L1333.21 963.12 L1332.91 964.64 L1332.6 966.15 L1332.3 967.67 L1332 969.18 L1331.69 970.7 L1331.39 972.21 L1331.09 973.73 L1330.77 975.24 L1330.45 976.76 L1330.13 978.27 L1329.82 979.79 L1329.51 981.3 L1329.23 982.82 L1328.96 984.33 L1328.71 985.85 L1328.46 987.36 L1328.22 988.88 L1327.99 990.39 L1327.77 991.91 L1327.58 993.42 L1327.41 994.93 L1327.27 996.45 L1327.15 997.96 L1327.04 999.48 L1326.95 1000.99 L1326.87 1002.51 L1326.82 1004.02 L1324.38 1004.02 L1324.33 1002.51 L1324.25 1000.99 L1324.16 999.48 L1324.05 997.96 L1323.93 996.45 L1323.79 994.93 L1323.62 993.42 L1323.43 991.91 L1323.21 990.39 L1322.98 988.88 L1322.74 987.36 L1322.49 985.85 L1322.24 984.33 L1321.97 982.82 L1321.69 981.3 L1321.38 979.79 L1321.07 978.27 L1320.75 976.76 L1320.43 975.24 L1320.11 973.73 L1319.81 972.21 L1319.51 970.7 L1319.2 969.18 L1318.9 967.67 L1318.6 966.15 L1318.29 964.64 L1317.99 963.12 L1317.69 961.61 L1317.39 960.09 L1317.13 958.58 L1316.88 957.06 L1316.63 955.55 L1316.37 954.03 L1316.07 952.52 L1315.71 951 L1315.29 949.49 L1314.71 947.97 L1313.85 946.46 L1312.79 944.94 L1311.58 943.43 L1310.27 941.91 L1308.94 940.4 L1307.64 938.88 L1306.42 937.37 L1305.23 935.85 L1304.01 934.34 L1302.77 932.82 L1301.53 931.31 L1300.29 929.79 L1299.07 928.28 L1297.89 926.76 L1296.74 925.25 L1295.61 923.73 L1294.48 922.22 L1293.37 920.7 L1292.28 919.19 L1291.23 917.67 L1290.22 916.16 L1289.28 914.64 L1288.38 913.13 L1287.48 911.61 L1286.59 910.1 L1285.72 908.58 L1284.92 907.07 L1284.19 905.56 L1283.58 904.04 L1283.09 902.53 L1282.7 901.01 L1282.32 899.5 L1281.98 897.98 L1281.69 896.47 L1281.48 894.95 L1281.38 893.44 L1281.38 891.92 L1281.44 890.41 L1281.54 888.89 L1281.67 887.38 L1281.83 885.86 L1282.08 884.35 L1282.49 882.83 L1283.04 881.32 L1283.69 879.8 L1284.41 878.29 L1285.17 876.77 L1285.93 875.26 L1286.68 873.74 L1287.46 872.23 L1288.31 870.71 L1289.21 869.2 L1290.15 867.68 L1291.12 866.17 L1292.09 864.65 L1293.05 863.14 L1293.99 861.62 L1294.94 860.11 L1295.88 858.59 L1296.83 857.08 L1297.8 855.56 L1298.78 854.05 L1299.77 852.53 L1300.78 851.02 L1301.81 849.5 L1302.88 847.99 L1303.97 846.47 L1305.08 844.96 L1306.2 843.44 L1307.31 841.93 L1308.41 840.41 L1309.48 838.9 L1310.56 837.38 L1311.67 835.87 L1312.79 834.35 L1313.9 832.84 L1314.96 831.32 L1315.96 829.81 L1316.88 828.29 L1317.69 826.78 L1318.45 825.26 L1319.21 823.75 L1319.93 822.23 L1320.6 820.72 L1321.2 819.2 L1321.71 817.69 L1322.1 816.18 L1322.36 814.66 L1322.6 813.15 L1322.81 811.63 L1323.01 810.12 L1323.17 808.6 L1323.3 807.09 L1323.4 805.57 L1323.44 804.06 L1323.42 802.54 L1323.28 801.03 L1323.08 799.51 L1322.85 798 L1322.65 796.48 L1322.53 794.97 L1322.5 793.45 L1322.5 791.94 L1322.5 790.42 L1322.5 788.91 L1322.5 787.39 L1322.5 785.88 Z" fill="#EE0000" fill-opacity="0.5" stroke="#000" stroke-width="2.5" stroke-linejoin="round"/>
<path d="M1325.6 822.3 V870.5 M1325.6 914 V973.9" stroke="#000" stroke-width="2.4" fill="none"/>
<rect x="1278.8" y="870.5" width="93.3" height="43.5" fill="#EE0000" fill-opacity="0.5" stroke="#000" stroke-width="2.5" stroke-linejoin="round"/>
<path d="M1278.8 890.5 H1372.1" stroke="#000" stroke-width="5.7" fill="none"/>
<path d="M1442.2 788.23 L1442.2 789.74 L1442.2 791.25 L1442.2 792.77 L1442.2 794.28 L1442.2 795.79 L1442.2 797.31 L1442.2 798.82 L1442.24 800.34 L1442.37 801.85 L1442.55 803.36 L1442.79 804.88 L1443.06 806.39 L1443.35 807.9 L1443.64 809.42 L1443.93 810.93 L1444.25 812.44 L1444.62 813.96 L1445.02 815.47 L1445.46 816.98 L1445.92 818.5 L1446.4 820.01 L1446.89 821.52 L1447.39 823.04 L1447.91 824.55 L1448.44 826.06 L1449 827.58 L1449.6 829.09 L1450.23 830.61 L1450.91 832.12 L1451.63 833.63 L1452.44 835.15 L1453.37 836.66 L1454.4 838.17 L1455.49 839.69 L1456.64 841.2 L1457.79 842.71 L1458.93 844.23 L1460.02 845.74 L1461.09 847.25 L1462.17 848.77 L1463.26 850.28 L1464.34 851.79 L1465.42 853.31 L1466.47 854.82 L1467.49 856.33 L1468.49 857.85 L1469.45 859.36 L1470.4 860.87 L1471.34 862.39 L1472.25 863.9 L1473.15 865.42 L1474.02 866.93 L1474.87 868.44 L1475.71 869.96 L1476.55 871.47 L1477.4 872.98 L1478.24 874.5 L1479.04 876.01 L1479.79 877.52 L1480.47 879.04 L1481.06 880.55 L1481.57 882.06 L1482.09 883.58 L1482.59 885.09 L1483.03 886.6 L1483.36 888.12 L1483.56 889.63 L1483.58 891.14 L1483.5 892.66 L1483.34 894.17 L1483.13 895.68 L1482.88 897.2 L1482.62 898.71 L1482.35 900.23 L1482.03 901.74 L1481.65 903.25 L1481.21 904.77 L1480.73 906.28 L1480.22 907.79 L1479.7 909.31 L1479.17 910.82 L1478.65 912.33 L1478.12 913.85 L1477.59 915.36 L1477.03 916.87 L1476.44 918.39 L1475.81 919.9 L1475.14 921.41 L1474.42 922.93 L1473.62 924.44 L1472.68 925.95 L1471.64 927.47 L1470.52 928.98 L1469.37 930.49 L1468.22 932.01 L1467.1 933.52 L1466.03 935.04 L1465 936.55 L1463.95 938.06 L1462.89 939.58 L1461.85 941.09 L1460.85 942.6 L1459.91 944.12 L1459.06 945.63 L1458.33 947.14 L1457.68 948.66 L1457.1 950.17 L1456.57 951.68 L1456.06 953.2 L1455.57 954.71 L1455.07 956.22 L1454.54 957.74 L1453.98 959.25 L1453.37 960.76 L1452.75 962.28 L1452.11 963.79 L1451.48 965.31 L1450.86 966.82 L1450.26 968.33 L1449.7 969.85 L1449.18 971.36 L1448.68 972.87 L1448.19 974.39 L1447.73 975.9 L1447.27 977.41 L1446.84 978.93 L1446.43 980.44 L1446.03 981.95 L1445.64 983.47 L1445.25 984.98 L1444.86 986.49 L1444.49 988.01 L1444.15 989.52 L1443.84 991.03 L1443.58 992.55 L1443.37 994.06 L1443.2 995.57 L1443.02 997.09 L1442.86 998.6 L1442.7 1000.12 L1442.56 1001.63 L1442.44 1003.14 L1442.34 1004.66 L1442.27 1006.17 L1442.22 1007.68 L1442.2 1009.2 L1439.8 1009.2 L1439.78 1007.68 L1439.73 1006.17 L1439.66 1004.66 L1439.56 1003.14 L1439.44 1001.63 L1439.3 1000.12 L1439.14 998.6 L1438.98 997.09 L1438.8 995.57 L1438.63 994.06 L1438.42 992.55 L1438.16 991.03 L1437.85 989.52 L1437.51 988.01 L1437.14 986.49 L1436.75 984.98 L1436.36 983.47 L1435.97 981.95 L1435.57 980.44 L1435.16 978.93 L1434.73 977.41 L1434.27 975.9 L1433.81 974.39 L1433.32 972.87 L1432.82 971.36 L1432.3 969.85 L1431.74 968.33 L1431.14 966.82 L1430.52 965.31 L1429.89 963.79 L1429.25 962.28 L1428.63 960.76 L1428.02 959.25 L1427.46 957.74 L1426.93 956.22 L1426.43 954.71 L1425.94 953.2 L1425.43 951.68 L1424.9 950.17 L1424.32 948.66 L1423.67 947.14 L1422.94 945.63 L1422.09 944.12 L1421.15 942.6 L1420.15 941.09 L1419.11 939.58 L1418.05 938.06 L1417 936.55 L1415.97 935.04 L1414.9 933.52 L1413.78 932.01 L1412.63 930.49 L1411.48 928.98 L1410.36 927.47 L1409.32 925.95 L1408.38 924.44 L1407.58 922.93 L1406.86 921.41 L1406.19 919.9 L1405.56 918.39 L1404.97 916.87 L1404.41 915.36 L1403.88 913.85 L1403.35 912.33 L1402.83 910.82 L1402.3 909.31 L1401.78 907.79 L1401.27 906.28 L1400.79 904.77 L1400.35 903.25 L1399.97 901.74 L1399.65 900.23 L1399.38 898.71 L1399.12 897.2 L1398.87 895.68 L1398.66 894.17 L1398.5 892.66 L1398.42 891.14 L1398.44 889.63 L1398.64 888.12 L1398.97 886.6 L1399.41 885.09 L1399.91 883.58 L1400.43 882.06 L1400.94 880.55 L1401.53 879.04 L1402.21 877.52 L1402.96 876.01 L1403.76 874.5 L1404.6 872.98 L1405.45 871.47 L1406.29 869.96 L1407.13 868.44 L1407.98 866.93 L1408.85 865.42 L1409.75 863.9 L1410.66 862.39 L1411.6 860.87 L1412.55 859.36 L1413.51 857.85 L1414.51 856.33 L1415.53 854.82 L1416.58 853.31 L1417.66 851.79 L1418.74 850.28 L1419.83 848.77 L1420.91 847.25 L1421.98 845.74 L1423.07 844.23 L1424.21 842.71 L1425.36 841.2 L1426.51 839.69 L1427.6 838.17 L1428.63 836.66 L1429.56 835.15 L1430.37 833.63 L1431.09 832.12 L1431.77 830.61 L1432.4 829.09 L1433 827.58 L1433.56 826.06 L1434.09 824.55 L1434.61 823.04 L1435.11 821.52 L1435.6 820.01 L1436.08 818.5 L1436.54 816.98 L1436.98 815.47 L1437.38 813.96 L1437.75 812.44 L1438.07 810.93 L1438.36 809.42 L1438.65 807.9 L1438.94 806.39 L1439.21 804.88 L1439.45 803.36 L1439.63 801.85 L1439.76 800.34 L1439.8 798.82 L1439.8 797.31 L1439.8 795.79 L1439.8 794.28 L1439.8 792.77 L1439.8 791.25 L1439.8 789.74 L1439.8 788.23 Z" fill="#008B45" fill-opacity="0.5" stroke="#000" stroke-width="2.5" stroke-linejoin="round"/>
<path d="M1441 814.1 V874.5 M1441 925 V992.7" stroke="#000" stroke-width="2.4" fill="none"/>
<rect x="1394.5" y="874.5" width="93.1" height="50.5" fill="#008B45" fill-opacity="0.5" stroke="#000" stroke-width="2.5" stroke-linejoin="round"/>
<path d="M1394.5 896.8 H1487.6" stroke="#000" stroke-width="5.7" fill="none"/>
<path d="M1140.74 653.6 V1025 H1510.34" stroke="#000" stroke-width="2.6" fill="none" stroke-linejoin="miter"/>
<text x="1122.94" y="992.2" font-size="20.5" text-anchor="end">2</text>
<text x="1122.94" y="925.98" font-size="20.5" text-anchor="end">4</text>
<text x="1122.94" y="859.76" font-size="20.5" text-anchor="end">6</text>
<text x="1122.94" y="793.54" font-size="20.5" text-anchor="end">8</text>
<text x="1122.94" y="727.32" font-size="20.5" text-anchor="end">10</text>
<text x="1122.94" y="661.1" font-size="20.5" text-anchor="end">12</text>
<path d="M1131.14 984.7 H1140.74 M1131.14 918.48 H1140.74 M1131.14 852.26 H1140.74 M1131.14 786.04 H1140.74 M1131.14 719.82 H1140.74 M1131.14 653.6 H1142.04 M1209.94 1025 V1034.6 M1325.54 1025 V1034.6 M1441.14 1025 V1034.6" stroke="#000" stroke-width="2.6" fill="none"/>
<text x="1209.94" y="1057.7" font-size="21.2" text-anchor="middle">Normal</text>
<text x="1325.54" y="1057.7" font-size="21.2" text-anchor="middle">Female</text>
<text x="1441.14" y="1057.7" font-size="21.2" text-anchor="middle">Male</text>
<text x="1326" y="1091.2" font-size="25.5" text-anchor="middle">Sex</text>
<text transform="translate(1055.84 839.3) rotate(-90)" font-size="24" text-anchor="middle" textLength="251" lengthAdjust="spacing">The expression of SVIL</text>
<text transform="translate(1078.44 839.3) rotate(-90)" font-size="24" text-anchor="middle" textLength="153" lengthAdjust="spacing">Log<tspan font-size="16.8" dy="6">2</tspan><tspan dy="-6"> (TPM+1)</tspan></text>
<text x="1383.34" y="671.61" font-size="21" text-anchor="middle">ns</text>
<text x="1325.54" y="697.49" font-size="19.3" text-anchor="middle">**</text>
<text x="1267.74" y="716.03" font-size="19.3" text-anchor="middle">**</text>
<path d="M1325.54 682.51 V676.11 H1441.14 V682.51 M1209.94 701.39 V694.99 H1441.14 V701.39 M1209.94 719.93 V713.53 H1325.54 V719.93" stroke="#000" stroke-width="2.4" fill="none" stroke-linejoin="round" stroke-linecap="round"/>
</g>
<g>
<text transform="translate(1557.5 669.9) scale(0.87 1)" font-size="35.5">G</text>
<text x="1843.41" y="643.4" font-size="24" text-anchor="middle">TCGA-BLCA</text>
<path d="M1741.64 729.42 L1741.94 730.93 L1742.22 732.45 L1742.49 733.96 L1742.75 735.47 L1742.99 736.98 L1743.22 738.5 L1743.42 740.01 L1743.61 741.52 L1743.77 743.03 L1743.92 744.54 L1744.07 746.06 L1744.22 747.57 L1744.36 749.08 L1744.49 750.59 L1744.59 752.1 L1744.66 753.62 L1744.7 755.13 L1744.7 756.64 L1744.67 758.15 L1744.6 759.67 L1744.52 761.18 L1744.43 762.69 L1744.34 764.2 L1744.24 765.71 L1744.12 767.23 L1743.99 768.74 L1743.84 770.25 L1743.68 771.76 L1743.52 773.28 L1743.35 774.79 L1743.17 776.3 L1743 777.81 L1742.84 779.32 L1742.68 780.84 L1742.53 782.35 L1742.4 783.86 L1742.28 785.37 L1742.17 786.89 L1742.07 788.4 L1741.96 789.91 L1741.85 791.42 L1741.75 792.93 L1741.65 794.45 L1741.55 795.96 L1741.46 797.47 L1741.38 798.98 L1741.31 800.49 L1741.25 802.01 L1741.21 803.52 L1741.18 805.03 L1741.17 806.54 L1741.18 808.06 L1741.2 809.57 L1741.25 811.08 L1741.3 812.59 L1741.37 814.1 L1741.45 815.62 L1741.55 817.13 L1741.65 818.64 L1741.76 820.15 L1741.88 821.67 L1742 823.18 L1742.13 824.69 L1742.27 826.2 L1742.4 827.71 L1742.54 829.23 L1742.68 830.74 L1742.86 832.25 L1743.06 833.76 L1743.3 835.28 L1743.55 836.79 L1743.83 838.3 L1744.12 839.81 L1744.42 841.32 L1744.73 842.84 L1745.04 844.35 L1745.36 845.86 L1745.67 847.37 L1745.97 848.88 L1746.26 850.4 L1746.54 851.91 L1746.8 853.42 L1747.04 854.93 L1747.28 856.45 L1747.52 857.96 L1747.77 859.47 L1748.03 860.98 L1748.29 862.49 L1748.55 864.01 L1748.81 865.52 L1749.05 867.03 L1749.29 868.54 L1749.51 870.06 L1749.71 871.57 L1749.89 873.08 L1750.04 874.59 L1750.16 876.1 L1750.25 877.62 L1750.31 879.13 L1750.32 880.64 L1750.31 882.15 L1750.28 883.67 L1750.24 885.18 L1750.19 886.69 L1750.12 888.2 L1750.05 889.71 L1749.96 891.23 L1749.87 892.74 L1749.76 894.25 L1749.58 895.76 L1749.36 897.27 L1749.1 898.79 L1748.83 900.3 L1748.56 901.81 L1748.29 903.32 L1747.99 904.84 L1747.67 906.35 L1747.34 907.86 L1746.99 909.37 L1746.65 910.88 L1746.31 912.4 L1745.97 913.91 L1745.63 915.42 L1745.29 916.93 L1744.93 918.45 L1744.58 919.96 L1744.22 921.47 L1743.85 922.98 L1743.48 924.49 L1743.1 926.01 L1742.71 927.52 L1742.32 929.03 L1741.92 930.54 L1741.52 932.06 L1713.7 932.06 L1713.3 930.54 L1712.9 929.03 L1712.51 927.52 L1712.12 926.01 L1711.74 924.49 L1711.37 922.98 L1711 921.47 L1710.64 919.96 L1710.29 918.45 L1709.93 916.93 L1709.59 915.42 L1709.25 913.91 L1708.91 912.4 L1708.57 910.88 L1708.23 909.37 L1707.88 907.86 L1707.55 906.35 L1707.23 904.84 L1706.93 903.32 L1706.66 901.81 L1706.39 900.3 L1706.12 898.79 L1705.86 897.27 L1705.64 895.76 L1705.46 894.25 L1705.35 892.74 L1705.26 891.23 L1705.17 889.71 L1705.1 888.2 L1705.03 886.69 L1704.98 885.18 L1704.94 883.67 L1704.91 882.15 L1704.9 880.64 L1704.91 879.13 L1704.97 877.62 L1705.06 876.1 L1705.18 874.59 L1705.33 873.08 L1705.51 871.57 L1705.71 870.06 L1705.93 868.54 L1706.17 867.03 L1706.41 865.52 L1706.67 864.01 L1706.93 862.49 L1707.19 860.98 L1707.45 859.47 L1707.7 857.96 L1707.94 856.45 L1708.18 854.93 L1708.42 853.42 L1708.68 851.91 L1708.96 850.4 L1709.25 848.88 L1709.55 847.37 L1709.86 845.86 L1710.18 844.35 L1710.49 842.84 L1710.8 841.32 L1711.1 839.81 L1711.39 838.3 L1711.67 836.79 L1711.92 835.28 L1712.16 833.76 L1712.36 832.25 L1712.54 830.74 L1712.68 829.23 L1712.82 827.71 L1712.95 826.2 L1713.09 824.69 L1713.22 823.18 L1713.34 821.67 L1713.46 820.15 L1713.57 818.64 L1713.67 817.13 L1713.77 815.62 L1713.85 814.1 L1713.92 812.59 L1713.97 811.08 L1714.02 809.57 L1714.04 808.06 L1714.05 806.54 L1714.04 805.03 L1714.01 803.52 L1713.97 802.01 L1713.91 800.49 L1713.84 798.98 L1713.76 797.47 L1713.67 795.96 L1713.57 794.45 L1713.47 792.93 L1713.37 791.42 L1713.26 789.91 L1713.15 788.4 L1713.05 786.89 L1712.94 785.37 L1712.82 783.86 L1712.69 782.35 L1712.54 780.84 L1712.38 779.32 L1712.22 777.81 L1712.05 776.3 L1711.87 774.79 L1711.7 773.28 L1711.54 771.76 L1711.38 770.25 L1711.23 768.74 L1711.1 767.23 L1710.98 765.71 L1710.88 764.2 L1710.79 762.69 L1710.7 761.18 L1710.62 759.67 L1710.55 758.15 L1710.52 756.64 L1710.52 755.13 L1710.56 753.62 L1710.63 752.1 L1710.73 750.59 L1710.86 749.08 L1711 747.57 L1711.15 746.06 L1711.3 744.54 L1711.45 743.03 L1711.61 741.52 L1711.8 740.01 L1712 738.5 L1712.23 736.98 L1712.47 735.47 L1712.73 733.96 L1713 732.45 L1713.28 730.93 L1713.58 729.42 Z" fill="#3B4992" fill-opacity="0.5" stroke="#000" stroke-width="2.5" stroke-linejoin="round"/>
<path d="M1727.61 729.42 V763.53 M1727.61 893.65 V932.06" stroke="#000" stroke-width="2.4" fill="none"/>
<rect x="1681.01" y="763.53" width="93.2" height="130.12" fill="#3B4992" fill-opacity="0.5" stroke="#000" stroke-width="2.5" stroke-linejoin="round"/>
<path d="M1681.01 857.56 H1774.21" stroke="#000" stroke-width="5.7" fill="none"/>
<path d="M1844.2 788.23 L1844.2 789.75 L1844.2 791.27 L1844.2 792.79 L1844.2 794.31 L1844.2 795.83 L1844.2 797.35 L1844.2 798.87 L1844.2 800.39 L1844.2 801.92 L1844.2 803.44 L1844.2 804.96 L1844.22 806.48 L1844.24 808 L1844.26 809.52 L1844.3 811.04 L1844.35 812.56 L1844.4 814.08 L1844.47 815.6 L1844.79 817.12 L1845.37 818.64 L1846.12 820.16 L1846.93 821.68 L1847.75 823.2 L1848.74 824.72 L1849.87 826.24 L1851.09 827.76 L1852.34 829.28 L1853.59 830.8 L1854.78 832.32 L1856 833.84 L1857.24 835.36 L1858.5 836.88 L1859.75 838.4 L1860.99 839.93 L1862.19 841.45 L1863.35 842.97 L1864.44 844.49 L1865.5 846.01 L1866.53 847.53 L1867.54 849.05 L1868.53 850.57 L1869.5 852.09 L1870.46 853.61 L1871.42 855.13 L1872.37 856.65 L1873.3 858.17 L1874.22 859.69 L1875.13 861.21 L1876.03 862.73 L1876.93 864.25 L1877.82 865.77 L1878.72 867.29 L1879.66 868.81 L1880.65 870.33 L1881.62 871.85 L1882.53 873.37 L1883.33 874.89 L1883.96 876.42 L1884.5 877.94 L1885.02 879.46 L1885.5 880.98 L1885.9 882.5 L1886.18 884.02 L1886.31 885.54 L1886.28 887.06 L1886.16 888.58 L1885.96 890.1 L1885.69 891.62 L1885.38 893.14 L1885.04 894.66 L1884.62 896.18 L1883.92 897.7 L1883.03 899.22 L1882.04 900.74 L1881.04 902.26 L1880.15 903.78 L1879.44 905.3 L1878.75 906.82 L1878.08 908.34 L1877.46 909.86 L1876.91 911.38 L1876.46 912.91 L1876.13 914.43 L1875.9 915.95 L1875.72 917.47 L1875.57 918.99 L1875.41 920.51 L1875.24 922.03 L1875.01 923.55 L1874.73 925.07 L1874.42 926.59 L1874.06 928.11 L1873.66 929.63 L1873.22 931.15 L1872.74 932.67 L1872.2 934.19 L1871.56 935.71 L1870.83 937.23 L1870.05 938.75 L1869.22 940.27 L1868.37 941.79 L1867.52 943.31 L1866.68 944.83 L1865.82 946.35 L1864.9 947.87 L1863.96 949.4 L1863.01 950.92 L1862.06 952.44 L1861.14 953.96 L1860.25 955.48 L1859.41 957 L1858.58 958.52 L1857.77 960.04 L1856.98 961.56 L1856.2 963.08 L1855.46 964.6 L1854.75 966.12 L1854.07 967.64 L1853.44 969.16 L1852.81 970.68 L1852.2 972.2 L1851.62 973.72 L1851.06 975.24 L1850.55 976.76 L1850.07 978.28 L1849.65 979.8 L1849.27 981.32 L1848.91 982.84 L1848.58 984.36 L1848.27 985.88 L1847.97 987.41 L1847.71 988.93 L1847.46 990.45 L1847.23 991.97 L1847.02 993.49 L1846.81 995.01 L1846.61 996.53 L1846.43 998.05 L1846.26 999.57 L1846.11 1001.09 L1845.98 1002.61 L1845.86 1004.13 L1840.14 1004.13 L1840.02 1002.61 L1839.89 1001.09 L1839.74 999.57 L1839.57 998.05 L1839.39 996.53 L1839.19 995.01 L1838.98 993.49 L1838.77 991.97 L1838.54 990.45 L1838.29 988.93 L1838.03 987.41 L1837.73 985.88 L1837.42 984.36 L1837.09 982.84 L1836.73 981.32 L1836.35 979.8 L1835.93 978.28 L1835.45 976.76 L1834.94 975.24 L1834.38 973.72 L1833.8 972.2 L1833.19 970.68 L1832.56 969.16 L1831.93 967.64 L1831.25 966.12 L1830.54 964.6 L1829.8 963.08 L1829.02 961.56 L1828.23 960.04 L1827.42 958.52 L1826.59 957 L1825.75 955.48 L1824.86 953.96 L1823.94 952.44 L1822.99 950.92 L1822.04 949.4 L1821.1 947.87 L1820.18 946.35 L1819.32 944.83 L1818.48 943.31 L1817.63 941.79 L1816.78 940.27 L1815.95 938.75 L1815.17 937.23 L1814.44 935.71 L1813.8 934.19 L1813.26 932.67 L1812.78 931.15 L1812.34 929.63 L1811.94 928.11 L1811.58 926.59 L1811.27 925.07 L1810.99 923.55 L1810.76 922.03 L1810.59 920.51 L1810.43 918.99 L1810.28 917.47 L1810.1 915.95 L1809.87 914.43 L1809.54 912.91 L1809.09 911.38 L1808.54 909.86 L1807.92 908.34 L1807.25 906.82 L1806.56 905.3 L1805.85 903.78 L1804.96 902.26 L1803.96 900.74 L1802.97 899.22 L1802.08 897.7 L1801.38 896.18 L1800.96 894.66 L1800.62 893.14 L1800.31 891.62 L1800.04 890.1 L1799.84 888.58 L1799.72 887.06 L1799.69 885.54 L1799.82 884.02 L1800.1 882.5 L1800.5 880.98 L1800.98 879.46 L1801.5 877.94 L1802.04 876.42 L1802.67 874.89 L1803.47 873.37 L1804.38 871.85 L1805.35 870.33 L1806.34 868.81 L1807.28 867.29 L1808.18 865.77 L1809.07 864.25 L1809.97 862.73 L1810.87 861.21 L1811.78 859.69 L1812.7 858.17 L1813.63 856.65 L1814.58 855.13 L1815.54 853.61 L1816.5 852.09 L1817.47 850.57 L1818.46 849.05 L1819.47 847.53 L1820.5 846.01 L1821.56 844.49 L1822.65 842.97 L1823.81 841.45 L1825.01 839.93 L1826.25 838.4 L1827.5 836.88 L1828.76 835.36 L1830 833.84 L1831.22 832.32 L1832.41 830.8 L1833.66 829.28 L1834.91 827.76 L1836.13 826.24 L1837.26 824.72 L1838.25 823.2 L1839.07 821.68 L1839.88 820.16 L1840.63 818.64 L1841.21 817.12 L1841.53 815.6 L1841.6 814.08 L1841.65 812.56 L1841.7 811.04 L1841.74 809.52 L1841.76 808 L1841.78 806.48 L1841.8 804.96 L1841.8 803.44 L1841.8 801.92 L1841.8 800.39 L1841.8 798.87 L1841.8 797.35 L1841.8 795.83 L1841.8 794.31 L1841.8 792.79 L1841.8 791.27 L1841.8 789.75 L1841.8 788.23 Z" fill="#EE0000" fill-opacity="0.5" stroke="#000" stroke-width="2.5" stroke-linejoin="round"/>
<path d="M1843 788.2 V871.3 M1843 930.5 V1004.1" stroke="#000" stroke-width="2.4" fill="none"/>
<rect x="1796.5" y="871.3" width="93.3" height="59.2" fill="#EE0000" fill-opacity="0.5" stroke="#000" stroke-width="2.5" stroke-linejoin="round"/>
<path d="M1796.5 895.2 H1889.8" stroke="#000" stroke-width="5.7" fill="none"/>
<path d="M1959.92 785.88 L1959.92 787.4 L1959.93 788.92 L1959.95 790.44 L1959.97 791.96 L1960 793.48 L1960.04 795 L1960.08 796.52 L1960.13 798.04 L1960.19 799.56 L1960.32 801.08 L1960.51 802.6 L1960.76 804.12 L1961.04 805.64 L1961.34 807.16 L1961.65 808.68 L1961.96 810.2 L1962.25 811.72 L1962.56 813.24 L1962.87 814.76 L1963.21 816.28 L1963.57 817.8 L1963.96 819.32 L1964.39 820.84 L1964.86 822.36 L1965.4 823.88 L1966.02 825.4 L1966.72 826.92 L1967.48 828.44 L1968.3 829.96 L1969.17 831.48 L1970.07 833 L1971 834.52 L1972.07 836.04 L1973.27 837.56 L1974.56 839.08 L1975.88 840.6 L1977.2 842.12 L1978.47 843.64 L1979.65 845.16 L1980.7 846.68 L1981.68 848.2 L1982.61 849.72 L1983.51 851.23 L1984.39 852.75 L1985.25 854.27 L1986.13 855.79 L1987.02 857.31 L1987.93 858.83 L1988.84 860.35 L1989.74 861.87 L1990.65 863.39 L1991.56 864.91 L1992.47 866.43 L1993.39 867.95 L1994.32 869.47 L1995.31 870.99 L1996.35 872.51 L1997.41 874.03 L1998.42 875.55 L1999.32 877.07 L2000.06 878.59 L2000.69 880.11 L2001.32 881.63 L2001.9 883.15 L2002.4 884.67 L2002.76 886.19 L2002.94 887.71 L2002.96 889.23 L2002.96 890.75 L2002.96 892.27 L2002.96 893.79 L2002.96 895.31 L2002.96 896.83 L2002.94 898.35 L2002.81 899.87 L2002.58 901.39 L2002.28 902.91 L2001.93 904.43 L2001.56 905.95 L2001.19 907.47 L2000.77 908.99 L2000.28 910.51 L1999.73 912.03 L1999.11 913.55 L1998.43 915.07 L1997.69 916.59 L1996.82 918.11 L1995.79 919.63 L1994.64 921.15 L1993.41 922.67 L1992.12 924.19 L1990.81 925.71 L1989.43 927.23 L1987.9 928.75 L1986.29 930.27 L1984.67 931.79 L1983.1 933.31 L1981.66 934.83 L1980.33 936.35 L1978.96 937.87 L1977.61 939.39 L1976.38 940.91 L1975.32 942.43 L1974.52 943.95 L1974.01 945.47 L1973.62 946.99 L1973.31 948.51 L1973.04 950.03 L1972.8 951.55 L1972.56 953.07 L1972.29 954.59 L1971.98 956.11 L1971.6 957.63 L1971.18 959.15 L1970.73 960.67 L1970.26 962.19 L1969.78 963.71 L1969.29 965.23 L1968.81 966.75 L1968.35 968.27 L1967.88 969.79 L1967.41 971.31 L1966.94 972.83 L1966.47 974.35 L1966.01 975.87 L1965.56 977.39 L1965.13 978.91 L1964.72 980.43 L1964.31 981.95 L1963.9 983.47 L1963.5 984.99 L1963.11 986.51 L1962.75 988.03 L1962.42 989.55 L1962.14 991.07 L1961.88 992.59 L1961.64 994.1 L1961.4 995.62 L1961.18 997.14 L1960.96 998.66 L1960.76 1000.18 L1960.57 1001.7 L1960.4 1003.22 L1960.25 1004.74 L1960.11 1006.26 L1960 1007.78 L1959.92 1009.3 L1957.48 1009.3 L1957.4 1007.78 L1957.29 1006.26 L1957.15 1004.74 L1957 1003.22 L1956.83 1001.7 L1956.64 1000.18 L1956.44 998.66 L1956.22 997.14 L1956 995.62 L1955.76 994.1 L1955.52 992.59 L1955.26 991.07 L1954.98 989.55 L1954.65 988.03 L1954.29 986.51 L1953.9 984.99 L1953.5 983.47 L1953.09 981.95 L1952.68 980.43 L1952.27 978.91 L1951.84 977.39 L1951.39 975.87 L1950.93 974.35 L1950.46 972.83 L1949.99 971.31 L1949.52 969.79 L1949.05 968.27 L1948.59 966.75 L1948.11 965.23 L1947.62 963.71 L1947.14 962.19 L1946.67 960.67 L1946.22 959.15 L1945.8 957.63 L1945.42 956.11 L1945.11 954.59 L1944.84 953.07 L1944.6 951.55 L1944.36 950.03 L1944.09 948.51 L1943.78 946.99 L1943.39 945.47 L1942.88 943.95 L1942.08 942.43 L1941.02 940.91 L1939.79 939.39 L1938.44 937.87 L1937.07 936.35 L1935.74 934.83 L1934.3 933.31 L1932.73 931.79 L1931.11 930.27 L1929.5 928.75 L1927.97 927.23 L1926.59 925.71 L1925.28 924.19 L1923.99 922.67 L1922.76 921.15 L1921.61 919.63 L1920.58 918.11 L1919.71 916.59 L1918.97 915.07 L1918.29 913.55 L1917.67 912.03 L1917.12 910.51 L1916.63 908.99 L1916.21 907.47 L1915.84 905.95 L1915.47 904.43 L1915.12 902.91 L1914.82 901.39 L1914.59 899.87 L1914.46 898.35 L1914.44 896.83 L1914.44 895.31 L1914.44 893.79 L1914.44 892.27 L1914.44 890.75 L1914.44 889.23 L1914.46 887.71 L1914.64 886.19 L1915 884.67 L1915.5 883.15 L1916.08 881.63 L1916.71 880.11 L1917.34 878.59 L1918.08 877.07 L1918.98 875.55 L1919.99 874.03 L1921.05 872.51 L1922.09 870.99 L1923.08 869.47 L1924.01 867.95 L1924.93 866.43 L1925.84 864.91 L1926.75 863.39 L1927.66 861.87 L1928.56 860.35 L1929.47 858.83 L1930.38 857.31 L1931.27 855.79 L1932.15 854.27 L1933.01 852.75 L1933.89 851.23 L1934.79 849.72 L1935.72 848.2 L1936.7 846.68 L1937.75 845.16 L1938.93 843.64 L1940.2 842.12 L1941.52 840.6 L1942.84 839.08 L1944.13 837.56 L1945.33 836.04 L1946.4 834.52 L1947.33 833 L1948.23 831.48 L1949.1 829.96 L1949.92 828.44 L1950.68 826.92 L1951.38 825.4 L1952 823.88 L1952.54 822.36 L1953.01 820.84 L1953.44 819.32 L1953.83 817.8 L1954.19 816.28 L1954.53 814.76 L1954.84 813.24 L1955.15 811.72 L1955.44 810.2 L1955.75 808.68 L1956.06 807.16 L1956.36 805.64 L1956.64 804.12 L1956.89 802.6 L1957.08 801.08 L1957.21 799.56 L1957.27 798.04 L1957.32 796.52 L1957.36 795 L1957.4 793.48 L1957.43 791.96 L1957.45 790.44 L1957.47 788.92 L1957.48 787.4 L1957.48 785.88 Z" fill="#008B45" fill-opacity="0.5" stroke="#000" stroke-width="2.5" stroke-linejoin="round"/>
<path d="M1958.7 814.1 V874.1 M1958.7 922.3 V992.8" stroke="#000" stroke-width="2.4" fill="none"/>
<rect x="1912.2" y="874.1" width="93.1" height="48.2" fill="#008B45" fill-opacity="0.5" stroke="#000" stroke-width="2.5" stroke-linejoin="round"/>
<path d="M1912.2 896.9 H2005.3" stroke="#000" stroke-width="5.7" fill="none"/>
<path d="M1658.41 653.6 V1025 H2028.01" stroke="#000" stroke-width="2.6" fill="none" stroke-linejoin="miter"/>
<text x="1640.61" y="992.2" font-size="20.5" text-anchor="end">2</text>
<text x="1640.61" y="925.98" font-size="20.5" text-anchor="end">4</text>
<text x="1640.61" y="859.76" font-size="20.5" text-anchor="end">6</text>
<text x="1640.61" y="793.54" font-size="20.5" text-anchor="end">8</text>
<text x="1640.61" y="727.32" font-size="20.5" text-anchor="end">10</text>
<text x="1640.61" y="661.1" font-size="20.5" text-anchor="end">12</text>
<path d="M1648.81 984.7 H1658.41 M1648.81 918.48 H1658.41 M1648.81 852.26 H1658.41 M1648.81 786.04 H1658.41 M1648.81 719.82 H1658.41 M1648.81 653.6 H1659.71 M1727.61 1025 V1034.6 M1843.21 1025 V1034.6 M1958.81 1025 V1034.6" stroke="#000" stroke-width="2.6" fill="none"/>
<text x="1727.61" y="1057.7" font-size="21.2" text-anchor="middle">Normal</text>
<text x="1843.21" y="1057.7" font-size="21.2" text-anchor="middle">No</text>
<text x="1958.81" y="1057.7" font-size="21.2" text-anchor="middle">Yes</text>
<text x="1835.3" y="1097" font-size="25.5" text-anchor="middle" textLength="187.5" lengthAdjust="spacing">Somking status</text>
<text transform="translate(1573.51 839.3) rotate(-90)" font-size="24" text-anchor="middle" textLength="251" lengthAdjust="spacing">The expression of SVIL</text>
<text transform="translate(1596.11 839.3) rotate(-90)" font-size="24" text-anchor="middle" textLength="153" lengthAdjust="spacing">Log<tspan font-size="16.8" dy="6">2</tspan><tspan dy="-6"> (TPM+1)</tspan></text>
<text x="1901.01" y="671.61" font-size="21" text-anchor="middle">ns</text>
<text x="1843.21" y="697.49" font-size="19.3" text-anchor="middle">**</text>
<text x="1785.41" y="716.03" font-size="19.3" text-anchor="middle">**</text>
<path d="M1843.21 682.51 V676.11 H1958.81 V682.51 M1727.61 701.39 V694.99 H1958.81 V701.39 M1727.61 719.93 V713.53 H1843.21 V719.93" stroke="#000" stroke-width="2.4" fill="none" stroke-linejoin="round" stroke-linecap="round"/>
</g>
</svg>
</body>
</html>
